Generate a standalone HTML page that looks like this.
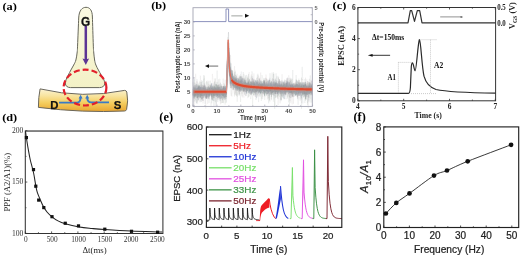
<!DOCTYPE html>
<html><head><meta charset="utf-8"><style>
html,body{margin:0;padding:0;background:#fff;width:520px;height:256px;overflow:hidden;}
svg{display:block;font-family:"Liberation Sans",sans-serif;will-change:transform;}
</style></head><body>
<svg width="520" height="256" viewBox="0 0 520 256"><text x="2.4" y="9.7" font-family="Liberation Serif" font-size="11" font-weight="bold" font-style="normal" text-anchor="start" fill="#000" textLength="14.4" lengthAdjust="spacingAndGlyphs">(a)</text>
<defs>
<linearGradient id="barg" x1="0" y1="0" x2="0" y2="1">
<stop offset="0" stop-color="#fbf3d2"/><stop offset="0.3" stop-color="#f8e4a0"/><stop offset="0.62" stop-color="#f4cd5e"/><stop offset="1" stop-color="#e9a630"/></linearGradient>
<linearGradient id="neug" x1="0" y1="0" x2="0" y2="1">
<stop offset="0" stop-color="#fbfae2"/><stop offset="1" stop-color="#f3f1c6"/></linearGradient>
</defs>
<path d="M40.1 88.9 Q83 99 124.6 90.4 Q126.2 90.3 126.8 92 Q128.6 101 126.6 109.5 Q126.2 110.9 124.5 111 Q83 113 38.4 107.4 Q38.4 97 40.1 88.9 Z" fill="url(#barg)" stroke="#6a665a" stroke-width="1"/>
<path d="M86 7.3 C82.5 7.3 79 10 78.7 18 C78.52 22.5 77.85 39.33 77.6 45 C77.35 50.67 77.48 49.5 77.2 52 C76.92 54.5 76.48 57.83 75.9 60 C75.32 62.17 74.53 63.33 73.7 65 C72.87 66.67 71.8 68.33 70.9 70 C70 71.67 69.07 73.5 68.3 75 C67.53 76.5 66.8 77.67 66.3 79 C65.8 80.33 65.47 82.33 65.3 83 C65.2 86 67.5 87.6 70.5 87.6 L99.5 87.6 C102.5 87.6 104.9 86 104.8 83 C104.6 82.33 104.2 80.33 103.6 79 C103 77.67 102.07 76.5 101.2 75 C100.33 73.5 99.28 71.67 98.4 70 C97.52 68.33 96.53 66.67 95.9 65 C95.27 63.33 94.97 62.17 94.6 60 C94.23 57.83 93.92 54.5 93.7 52 C93.48 49.5 93.52 50.83 93.3 45 C93.08 39.17 92.55 21.67 92.4 17 C92.3 10.5 90 7.3 86 7.3 Z" fill="url(#neug)" stroke="#66665a" stroke-width="1"/>
<line x1="85.8" y1="26" x2="85.8" y2="60" stroke="#5c3594" stroke-width="2.5"/>
<path d="M82.5 58.4 L85.8 59.6 L89.1 58.4 L85.8 65 Z" fill="#5c3594"/>
<text x="85.6" y="26.3" font-family="Liberation Sans" font-size="12.8" font-weight="bold" font-style="normal" text-anchor="middle" fill="#111" textLength="9.2" lengthAdjust="spacingAndGlyphs" stroke="#111" stroke-width="0.3">G</text>
<path d="M59 102.6 L76.8 102.6 Q80.5 102.6 80.6 97.5" fill="none" stroke="#3a7ac6" stroke-width="1.9"/>
<path d="M109 102.4 L91.2 102.4 Q87.3 102.4 87.2 97.5" fill="none" stroke="#3a7ac6" stroke-width="1.9"/>
<path d="M78.6 98.4 L82.6 98.4 L80.6 94.8 Z" fill="#3a7ac6"/>
<path d="M85.2 98.4 L89.2 98.4 L87.2 94.8 Z" fill="#3a7ac6"/>
<ellipse cx="85" cy="87.6" rx="21.4" ry="17.9" fill="none" stroke="#e2202b" stroke-width="2.2" stroke-dasharray="6 3" stroke-dashoffset="0.2"/>
<text x="54.3" y="108.7" font-family="Liberation Sans" font-size="11.8" font-weight="bold" font-style="normal" text-anchor="middle" fill="#111" textLength="8.2" lengthAdjust="spacingAndGlyphs" stroke="#111" stroke-width="0.25">D</text>
<text x="117.5" y="109.3" font-family="Liberation Sans" font-size="11.8" font-weight="bold" font-style="normal" text-anchor="middle" fill="#111" textLength="7.6" lengthAdjust="spacingAndGlyphs" stroke="#111" stroke-width="0.25">S</text>
<text x="151.2" y="9.2" font-family="Liberation Serif" font-size="11.3" font-weight="bold" font-style="normal" text-anchor="start" fill="#000" textLength="15" lengthAdjust="spacingAndGlyphs">(b)</text>
<defs><filter id="nb" x="-5%" y="-20%" width="110%" height="140%"><feGaussianBlur stdDeviation="0.35"/></filter></defs>
<g filter="url(#nb)">
<polyline points="193,99.64 193.67,89.33 194.34,85.35 195.01,95.07 195.68,100.32 196.35,92.18 197.02,88.68 197.69,84.69 198.36,99.59 199.03,100.09 199.7,87.21 200.37,88.71 201.04,81.88 201.71,85.43 202.38,92.42 203.05,93.53 203.72,75.21 204.39,93.62 205.06,96.81 205.73,99.09 206.4,91.15 207.06,90.82 207.73,93.98 208.4,92.16 209.07,90 209.74,87.3 210.41,84.7 211.08,90.41 211.75,103.29 212.42,87.24 213.09,100.9 213.76,92.86 214.43,101.25 215.1,91.75 215.77,96.77 216.44,90.38 217.11,70.51 217.78,92.07 218.45,86.34 219.12,100.28 219.79,93.62 220.46,87.49 221.13,92.36 221.8,89.38 222.47,91.09 223.14,98.24 223.81,88.13 224.48,96.99 225.15,79.71 225.82,95.01 226.49,87.34 227.16,70.97 227.83,40.39 228.5,56.4 229.17,53.35 229.84,72.47 230.51,62.53 231.18,71.72 231.85,78.89 232.52,85.92 233.19,76.75 233.86,79.28 234.53,72.21 235.19,85.63 235.86,79.99 236.53,80.6 237.2,82.34 237.87,83.07 238.54,83.48 239.21,88.72 239.88,91.59 240.55,87.79 241.22,81.6 241.89,75.82 242.56,79.41 243.23,79.05 243.9,80.95 244.57,81.57 245.24,84.99 245.91,81.3 246.58,74.94 247.25,88.56 247.92,91 248.59,73.99 249.26,85.11 249.93,80.51 250.6,81.2 251.27,94.21 251.94,71.28 252.61,75.58 253.28,85.93 253.95,82.28 254.62,86.36 255.29,92.93 255.96,88 256.63,84.92 257.3,80.19 257.97,82.86 258.64,87.08 259.31,78.79 259.98,92.45 260.65,82.49 261.32,80.47 261.99,89.55 262.66,99.24 263.32,93.59 263.99,86.26 264.66,84.42 265.33,77.89 266,94.36 266.67,87.91 267.34,83.78 268.01,89.01 268.68,103.29 269.35,82.87 270.02,73.2 270.69,81.65 271.36,94.06 272.03,90.84 272.7,86.78 273.37,72.21 274.04,84.3 274.71,87.57 275.38,78.3 276.05,88.88 276.72,76.4 277.39,92.82 278.06,91.49 278.73,83.82 279.4,79.32 280.07,84.3 280.74,86.6 281.41,100.3 282.08,93.18 282.75,92.55 283.42,92.07 284.09,84.88 284.76,90.84 285.43,83.63 286.1,88.2 286.77,90.9 287.44,88.01 288.11,86.04 288.78,83.29 289.45,91.91 290.12,90.36 290.78,97.66 291.45,78.57 292.12,79.57 292.79,90.09 293.46,92.04 294.13,96.94 294.8,87.91 295.47,87.69 296.14,74.99 296.81,87.47 297.48,94.08 298.15,104.84 298.82,80.03 299.49,87.91 300.16,99.51 300.83,88 301.5,99.54 302.17,66.78 302.84,82.01 303.51,85.54 304.18,90.37 304.85,103.04 305.52,90.09 306.19,99.3 306.86,85.47 307.53,103.1 308.2,95.18 308.87,81.5 309.54,78.78 310.21,96.99 310.88,99.27 311.55,83.75 312.22,83.93" fill="none" stroke="#889294" stroke-width="0.5" stroke-opacity="0.18"/>
<polyline points="193,94.94 193.67,92.13 194.34,91.41 195.01,90.5 195.68,91.14 196.35,89.9 197.02,90.11 197.69,94.25 198.36,90.31 199.03,87.22 199.7,93.75 200.37,95.22 201.04,90.82 201.71,95.52 202.38,92.76 203.05,94.52 203.72,92.01 204.39,91.18 205.06,91.4 205.73,90.24 206.4,92.18 207.06,90.88 207.73,96.41 208.4,98.59 209.07,91.17 209.74,92.97 210.41,90.44 211.08,94.73 211.75,94.27 212.42,91.69 213.09,94.71 213.76,88.33 214.43,93.36 215.1,91.58 215.77,88.48 216.44,91.78 217.11,87.19 217.78,89.97 218.45,96.85 219.12,91.07 219.79,89.63 220.46,90.38 221.13,84.64 221.8,91.33 222.47,90.08 223.14,95.81 223.81,86.24 224.48,90.63 225.15,91.46 225.82,85.82 226.49,92.5 227.16,68.22 227.83,46.42 228.5,41.52 229.17,68.02 229.84,75.81 230.51,71.35 231.18,82 231.85,84.31 232.52,78.44 233.19,85.47 233.86,84.88 234.53,77.32 235.19,83.97 235.86,79.22 236.53,85.02 237.2,86.51 237.87,87.26 238.54,80.95 239.21,89.1 239.88,86.86 240.55,86.97 241.22,84.23 241.89,85.25 242.56,88.21 243.23,84.78 243.9,91.6 244.57,84.48 245.24,86.33 245.91,83.18 246.58,83.84 247.25,88.42 247.92,88.92 248.59,84.73 249.26,85.68 249.93,85.65 250.6,89.04 251.27,88.1 251.94,92.22 252.61,87.87 253.28,87.26 253.95,86.3 254.62,81.65 255.29,94.79 255.96,89.21 256.63,98.25 257.3,87.41 257.97,84.04 258.64,82.2 259.31,88.22 259.98,89.73 260.65,93.35 261.32,84.01 261.99,90.36 262.66,85.43 263.32,85.54 263.99,81.43 264.66,83.76 265.33,87.69 266,90.08 266.67,91.04 267.34,86.71 268.01,90.67 268.68,92.26 269.35,79.95 270.02,82.84 270.69,84.36 271.36,85.97 272.03,95.16 272.7,86.5 273.37,86.56 274.04,89.34 274.71,87.42 275.38,91.57 276.05,80.14 276.72,86.1 277.39,89.45 278.06,88.55 278.73,89.02 279.4,89.37 280.07,88.54 280.74,90.38 281.41,85.74 282.08,89.73 282.75,81.47 283.42,87.36 284.09,82.31 284.76,89.46 285.43,88.34 286.1,93.53 286.77,89.77 287.44,85.64 288.11,90.63 288.78,81.9 289.45,88.85 290.12,93.68 290.78,89.43 291.45,95.07 292.12,86.49 292.79,93.27 293.46,91.3 294.13,88.81 294.8,92.46 295.47,94.68 296.14,91.23 296.81,90.84 297.48,89.8 298.15,96.09 298.82,89.74 299.49,89.32 300.16,84.35 300.83,82.92 301.5,91 302.17,91.32 302.84,90.95 303.51,86.68 304.18,86.11 304.85,89.8 305.52,85.54 306.19,90.64 306.86,88.47 307.53,86.19 308.2,89.24 308.87,90.29 309.54,89.6 310.21,85.88 310.88,91.4 311.55,87.77 312.22,89.53" fill="none" stroke="#929ca4" stroke-width="0.5" stroke-opacity="0.36"/>
<polyline points="193,92.19 193.67,92.87 194.34,94.99 195.01,92.56 195.68,84.73 196.35,93.71 197.02,92.2 197.69,88.14 198.36,89.36 199.03,89.3 199.7,88.98 200.37,98.1 201.04,94.54 201.71,91.35 202.38,90.15 203.05,87.59 203.72,90.25 204.39,92.53 205.06,91.63 205.73,92.44 206.4,90.96 207.06,89.59 207.73,92.85 208.4,94.38 209.07,94.51 209.74,88.23 210.41,87.64 211.08,88.57 211.75,89 212.42,89.08 213.09,91.77 213.76,89.62 214.43,95.15 215.1,92.41 215.77,94.12 216.44,89.42 217.11,93.63 217.78,92.11 218.45,90.47 219.12,87.4 219.79,94.31 220.46,94.78 221.13,89.13 221.8,95.32 222.47,90.3 223.14,93.6 223.81,92.1 224.48,97.62 225.15,89.46 225.82,93.37 226.49,94.65 227.16,64.3 227.83,46.54 228.5,32.12 229.17,61.54 229.84,72.99 230.51,74.99 231.18,69.88 231.85,79.88 232.52,79.45 233.19,80.03 233.86,85.23 234.53,82.37 235.19,84.82 235.86,87.57 236.53,81.07 237.2,82.02 237.87,84.18 238.54,87.57 239.21,91.32 239.88,83.5 240.55,85.55 241.22,90.83 241.89,85.75 242.56,90.6 243.23,85.91 243.9,85.49 244.57,84.92 245.24,85.47 245.91,85.72 246.58,90.04 247.25,87.69 247.92,88.18 248.59,87.37 249.26,85.82 249.93,84.77 250.6,81.56 251.27,95.17 251.94,85.67 252.61,87.65 253.28,79.74 253.95,84.12 254.62,92.5 255.29,85.94 255.96,88.96 256.63,84.13 257.3,90.78 257.97,87.75 258.64,87.89 259.31,87.82 259.98,89.43 260.65,93.51 261.32,86.15 261.99,84.46 262.66,87.93 263.32,91.02 263.99,87.13 264.66,86 265.33,88.42 266,87.94 266.67,83.39 267.34,91.56 268.01,89.79 268.68,94.16 269.35,90.31 270.02,90.47 270.69,91.21 271.36,90.39 272.03,82.4 272.7,88.85 273.37,88.61 274.04,81.19 274.71,88.5 275.38,93.91 276.05,87.06 276.72,91.4 277.39,83.13 278.06,92.45 278.73,90.33 279.4,93.66 280.07,88.2 280.74,91.81 281.41,88.78 282.08,89.8 282.75,90.59 283.42,85.6 284.09,85.65 284.76,88.48 285.43,91.61 286.1,92.18 286.77,87.88 287.44,81.08 288.11,90.27 288.78,91.34 289.45,91.09 290.12,92.39 290.78,92.01 291.45,89.56 292.12,84.31 292.79,88.95 293.46,90.61 294.13,94.18 294.8,88.31 295.47,89.11 296.14,92.99 296.81,92.56 297.48,89.21 298.15,85.83 298.82,87.09 299.49,88.47 300.16,90.19 300.83,88.13 301.5,89.22 302.17,82.2 302.84,92.86 303.51,90.42 304.18,85.16 304.85,90.12 305.52,84.69 306.19,89.43 306.86,88.84 307.53,90.52 308.2,93.78 308.87,92.48 309.54,82.23 310.21,87.3 310.88,87.44 311.55,86.34 312.22,87.59" fill="none" stroke="#868b8e" stroke-width="0.5" stroke-opacity="0.36"/>
<polyline points="193,88.47 193.67,95.16 194.34,90.15 195.01,92.46 195.68,88.59 196.35,93.27 197.02,88.1 197.69,94.3 198.36,91.49 199.03,87.47 199.7,93.8 200.37,91.77 201.04,92.51 201.71,91.16 202.38,95.99 203.05,93.97 203.72,94.21 204.39,92.19 205.06,92.73 205.73,93.05 206.4,88.79 207.06,96.25 207.73,94.3 208.4,94.19 209.07,86.54 209.74,90.92 210.41,86.7 211.08,91.79 211.75,86.36 212.42,90.35 213.09,91.35 213.76,89.15 214.43,98.32 215.1,86.73 215.77,85.33 216.44,91.61 217.11,86.72 217.78,88.58 218.45,90.72 219.12,87.04 219.79,87.44 220.46,92.92 221.13,90.3 221.8,92.91 222.47,90.42 223.14,95.54 223.81,89.58 224.48,94.88 225.15,95.51 225.82,95.25 226.49,87.75 227.16,70.29 227.83,52.77 228.5,50.87 229.17,61.02 229.84,77.25 230.51,74.83 231.18,80.36 231.85,76.22 232.52,79.43 233.19,83.81 233.86,86.29 234.53,86.08 235.19,83.86 235.86,85.54 236.53,84.3 237.2,81.82 237.87,80.79 238.54,85.78 239.21,86.08 239.88,86.8 240.55,87.08 241.22,89.54 241.89,83.06 242.56,85.55 243.23,84.94 243.9,85.8 244.57,85.62 245.24,83.61 245.91,86.01 246.58,93.47 247.25,85.2 247.92,84.54 248.59,82.94 249.26,87.12 249.93,88.54 250.6,84.51 251.27,88.62 251.94,86.9 252.61,83.06 253.28,91.31 253.95,92.79 254.62,85.24 255.29,84.34 255.96,91.97 256.63,92.35 257.3,85.55 257.97,88.84 258.64,86.3 259.31,84.02 259.98,82.52 260.65,89.79 261.32,89.16 261.99,87.33 262.66,93.73 263.32,85.86 263.99,83.5 264.66,90.96 265.33,89.6 266,89.71 266.67,84.32 267.34,91.76 268.01,86.27 268.68,86.59 269.35,91.35 270.02,87.89 270.69,88.52 271.36,90.76 272.03,81.61 272.7,92.16 273.37,91.25 274.04,93.74 274.71,88.12 275.38,91.46 276.05,82.48 276.72,87.46 277.39,83.79 278.06,91.7 278.73,82.26 279.4,90.02 280.07,85.4 280.74,94.29 281.41,92.46 282.08,89.59 282.75,91.02 283.42,98.51 284.09,90.56 284.76,90.88 285.43,88.12 286.1,83.63 286.77,89.8 287.44,90.12 288.11,88.93 288.78,88.48 289.45,89.47 290.12,90.75 290.78,92.71 291.45,87.39 292.12,93.98 292.79,91.11 293.46,86.6 294.13,86.56 294.8,85.44 295.47,88.4 296.14,87.78 296.81,95.12 297.48,87.29 298.15,88.23 298.82,91.22 299.49,87.36 300.16,88.47 300.83,89.36 301.5,88.52 302.17,87.36 302.84,92.04 303.51,91.62 304.18,90.6 304.85,92.05 305.52,90.1 306.19,89.52 306.86,87.8 307.53,89.61 308.2,88.66 308.87,90.18 309.54,90.57 310.21,88.02 310.88,92.48 311.55,90.29 312.22,93.05" fill="none" stroke="#94a4ac" stroke-width="0.5" stroke-opacity="0.36"/>
<polyline points="193,95.52 193.67,85.69 194.34,98.66 195.01,82.32 195.68,93.5 196.35,88.73 197.02,103.37 197.69,90.89 198.36,83.73 199.03,87.83 199.7,81.38 200.37,88.66 201.04,85.82 201.71,92.3 202.38,85.49 203.05,91.61 203.72,85.66 204.39,87.93 205.06,93.14 205.73,92.13 206.4,92.36 207.06,91.06 207.73,80.5 208.4,82.46 209.07,87.59 209.74,94.21 210.41,86.97 211.08,83.97 211.75,94.04 212.42,96.95 213.09,97.83 213.76,86.7 214.43,93.78 215.1,78.49 215.77,102.03 216.44,89.9 217.11,93 217.78,88.23 218.45,79.32 219.12,98.62 219.79,91.74 220.46,92.96 221.13,103.24 221.8,90.39 222.47,93.4 223.14,87.81 223.81,97.2 224.48,85.13 225.15,97.65 225.82,96.04 226.49,98.71 227.16,71.36 227.83,41.96 228.5,56.63 229.17,43.11 229.84,84.11 230.51,92.74 231.18,95.73 231.85,91.79 232.52,84.83 233.19,88.2 233.86,81.67 234.53,73.69 235.19,85.8 235.86,83.17 236.53,86.69 237.2,79.93 237.87,89.36 238.54,83.95 239.21,81.48 239.88,79.8 240.55,102.03 241.22,82.32 241.89,96.23 242.56,85.18 243.23,87.99 243.9,73.87 244.57,92.29 245.24,76.35 245.91,96.22 246.58,90.97 247.25,84.96 247.92,98.1 248.59,80.39 249.26,96.25 249.93,81.17 250.6,78.19 251.27,75.79 251.94,85.7 252.61,90.19 253.28,87.54 253.95,96.07 254.62,89.29 255.29,87.45 255.96,90.91 256.63,89.09 257.3,83.32 257.97,73.67 258.64,85.47 259.31,84.79 259.98,92.86 260.65,80.45 261.32,100.95 261.99,90.04 262.66,88.64 263.32,90.26 263.99,87.86 264.66,95.89 265.33,89.12 266,87.94 266.67,86.32 267.34,84.06 268.01,92.63 268.68,98.26 269.35,89.71 270.02,87.44 270.69,94.55 271.36,84.25 272.03,72.51 272.7,93.68 273.37,90.89 274.04,82.26 274.71,109.05 275.38,96.01 276.05,89.55 276.72,90.46 277.39,85.25 278.06,86.84 278.73,93.24 279.4,96.89 280.07,88.75 280.74,99.82 281.41,83.53 282.08,83.74 282.75,81.96 283.42,96.31 284.09,93.96 284.76,87.85 285.43,80.33 286.1,81.5 286.77,81.07 287.44,98.54 288.11,91.46 288.78,102.43 289.45,83.62 290.12,81.47 290.78,78.98 291.45,93.01 292.12,78.57 292.79,92.01 293.46,91.54 294.13,89.92 294.8,86.65 295.47,83.22 296.14,84.76 296.81,85.53 297.48,90.16 298.15,81.92 298.82,93.57 299.49,94.54 300.16,91.35 300.83,87.15 301.5,91.65 302.17,91.56 302.84,91.98 303.51,92.19 304.18,88.63 304.85,87.62 305.52,99.06 306.19,86.99 306.86,87.97 307.53,88.35 308.2,82.49 308.87,89.89 309.54,88.58 310.21,95.22 310.88,82.85 311.55,102.61 312.22,86.62" fill="none" stroke="#8b9c90" stroke-width="0.5" stroke-opacity="0.18"/>
<polyline points="193,90.09 193.67,90.39 194.34,94.63 195.01,93.38 195.68,88.87 196.35,88.52 197.02,91.44 197.69,94.59 198.36,100.44 199.03,90.59 199.7,96.35 200.37,92.24 201.04,92.15 201.71,93.2 202.38,89.19 203.05,92.65 203.72,93 204.39,94.52 205.06,89.09 205.73,90.32 206.4,97.6 207.06,93.21 207.73,92.98 208.4,91.04 209.07,98.68 209.74,94.63 210.41,92.66 211.08,93.54 211.75,91.76 212.42,93.92 213.09,100.98 213.76,96.84 214.43,92.27 215.1,90.67 215.77,93.59 216.44,87.51 217.11,93.3 217.78,91.33 218.45,90.49 219.12,91.62 219.79,87.54 220.46,92.7 221.13,94.48 221.8,89.01 222.47,93.07 223.14,93.37 223.81,91.38 224.48,90.05 225.15,92.05 225.82,88.44 226.49,94.05 227.16,74.82 227.83,52.67 228.5,51.21 229.17,52.4 229.84,61.71 230.51,76.02 231.18,80.27 231.85,80.78 232.52,79.7 233.19,84.06 233.86,80.39 234.53,84.23 235.19,88.63 235.86,86.27 236.53,82.28 237.2,80.43 237.87,83.69 238.54,84.27 239.21,80.83 239.88,76.47 240.55,80.86 241.22,87.16 241.89,87.26 242.56,81.21 243.23,86.07 243.9,89.1 244.57,90.93 245.24,89.34 245.91,84.13 246.58,86.14 247.25,88.21 247.92,86.18 248.59,89.78 249.26,83.95 249.93,84.96 250.6,83.37 251.27,87.25 251.94,82.8 252.61,89.29 253.28,83.06 253.95,82.46 254.62,86.05 255.29,82.23 255.96,80.85 256.63,90.26 257.3,89.51 257.97,91.25 258.64,85.09 259.31,89.53 259.98,92.59 260.65,87.55 261.32,91.35 261.99,81.53 262.66,87.92 263.32,85.72 263.99,90.4 264.66,91.63 265.33,86.18 266,84.64 266.67,90.13 267.34,91.35 268.01,88.53 268.68,85.69 269.35,89.66 270.02,83.22 270.69,86.38 271.36,83.92 272.03,91.25 272.7,92.61 273.37,91.33 274.04,89.73 274.71,84.23 275.38,86.83 276.05,87.65 276.72,91.98 277.39,87.17 278.06,89.27 278.73,87.83 279.4,89.82 280.07,92.22 280.74,88.35 281.41,85.82 282.08,90.46 282.75,87.17 283.42,82.2 284.09,85.71 284.76,84.02 285.43,89.7 286.1,86.48 286.77,91.26 287.44,88 288.11,90.94 288.78,88.91 289.45,93 290.12,87.66 290.78,89.72 291.45,88.47 292.12,90.52 292.79,96.63 293.46,90.81 294.13,86.57 294.8,88.99 295.47,89.89 296.14,86.32 296.81,82.74 297.48,86.45 298.15,87.8 298.82,92.08 299.49,91.78 300.16,85.79 300.83,88.39 301.5,88.95 302.17,86.98 302.84,90.86 303.51,96.74 304.18,89.17 304.85,85.66 305.52,89.8 306.19,88.57 306.86,86.71 307.53,83.25 308.2,92.54 308.87,87.29 309.54,83.58 310.21,91.6 310.88,86.51 311.55,86.29 312.22,83.58" fill="none" stroke="#94a4ac" stroke-width="0.5" stroke-opacity="0.36"/>
<polyline points="193,90.41 193.67,87.41 194.34,89.38 195.01,85.57 195.68,90.31 196.35,91.29 197.02,92.18 197.69,94.52 198.36,86.49 199.03,95.57 199.7,92.16 200.37,93.45 201.04,94.29 201.71,98.92 202.38,92.99 203.05,91.32 203.72,91.3 204.39,89.04 205.06,92.28 205.73,93.82 206.4,90.77 207.06,89.62 207.73,94.67 208.4,96.65 209.07,95.06 209.74,88.35 210.41,88.55 211.08,94.61 211.75,91.4 212.42,89.06 213.09,87.48 213.76,93.88 214.43,92.53 215.1,87.22 215.77,84 216.44,86.83 217.11,95.43 217.78,90.31 218.45,92.72 219.12,91.95 219.79,93.89 220.46,93.3 221.13,91.79 221.8,85.95 222.47,89.51 223.14,90.39 223.81,91.67 224.48,94.18 225.15,92.5 225.82,87.77 226.49,89.09 227.16,64.66 227.83,48.86 228.5,50.3 229.17,71.98 229.84,69.15 230.51,84.43 231.18,70.3 231.85,81.82 232.52,80.9 233.19,86.04 233.86,83.89 234.53,85.79 235.19,79.56 235.86,82.76 236.53,87.68 237.2,90.38 237.87,84.64 238.54,86.22 239.21,88.44 239.88,83.16 240.55,85.83 241.22,85.04 241.89,87.46 242.56,87.53 243.23,87.31 243.9,91.11 244.57,84.04 245.24,84.87 245.91,91.82 246.58,86.04 247.25,82.74 247.92,85.77 248.59,82.44 249.26,87.55 249.93,86.76 250.6,91.01 251.27,89.81 251.94,92.83 252.61,89.9 253.28,86.29 253.95,85.46 254.62,83.43 255.29,86.81 255.96,90.47 256.63,85.94 257.3,87.85 257.97,81.68 258.64,81.16 259.31,84.42 259.98,91.21 260.65,89.28 261.32,87.02 261.99,89.97 262.66,86.03 263.32,85.54 263.99,85.09 264.66,87.09 265.33,90.7 266,90.61 266.67,88.32 267.34,83.69 268.01,82.92 268.68,84.88 269.35,86.89 270.02,85.91 270.69,85.47 271.36,83.99 272.03,85.43 272.7,93.16 273.37,85.17 274.04,87.03 274.71,89.78 275.38,86.64 276.05,87.43 276.72,88.56 277.39,93.85 278.06,88.08 278.73,86.67 279.4,88.64 280.07,93.63 280.74,87.07 281.41,86.25 282.08,88.01 282.75,87.24 283.42,89.77 284.09,90.78 284.76,87 285.43,89.85 286.1,88.14 286.77,78.27 287.44,86.48 288.11,88.36 288.78,94.04 289.45,88.53 290.12,86.42 290.78,91.15 291.45,89.67 292.12,96.18 292.79,87.15 293.46,90.88 294.13,86.78 294.8,84.61 295.47,89.54 296.14,85.87 296.81,88.25 297.48,89.73 298.15,90 298.82,91.85 299.49,84.99 300.16,86.31 300.83,92.4 301.5,86.47 302.17,91.55 302.84,94.06 303.51,85.37 304.18,93.37 304.85,85.45 305.52,88.63 306.19,86.39 306.86,87.66 307.53,85.6 308.2,88.22 308.87,87.49 309.54,88.57 310.21,85.85 310.88,90.66 311.55,86.14 312.22,84.57" fill="none" stroke="#aca4b4" stroke-width="0.5" stroke-opacity="0.36"/>
<polyline points="193,91.96 193.67,90.87 194.34,88.72 195.01,87.33 195.68,89.58 196.35,93.44 197.02,89.8 197.69,89.73 198.36,91.52 199.03,92.01 199.7,88.55 200.37,87.23 201.04,94.12 201.71,92.12 202.38,88.73 203.05,87.45 203.72,85.54 204.39,95.25 205.06,87.53 205.73,92.93 206.4,98.68 207.06,88.94 207.73,91.4 208.4,92.76 209.07,90.87 209.74,89.65 210.41,93.68 211.08,91.25 211.75,95.62 212.42,88.73 213.09,90.67 213.76,91.69 214.43,90.83 215.1,89.23 215.77,88.24 216.44,89.03 217.11,91.21 217.78,95.34 218.45,89.91 219.12,88.45 219.79,87.96 220.46,92.1 221.13,86.59 221.8,92.67 222.47,93.33 223.14,91.03 223.81,89.25 224.48,92.52 225.15,94.95 225.82,96.64 226.49,87.54 227.16,70.58 227.83,45.97 228.5,52.21 229.17,60.67 229.84,70.09 230.51,75.26 231.18,82.7 231.85,82.84 232.52,77.73 233.19,89.87 233.86,83.72 234.53,78.21 235.19,81.24 235.86,84.65 236.53,85.65 237.2,88.59 237.87,78.19 238.54,86.45 239.21,84.42 239.88,80.52 240.55,82.36 241.22,83.58 241.89,86.44 242.56,84.99 243.23,87.96 243.9,84.03 244.57,88.67 245.24,86.12 245.91,84.5 246.58,83.62 247.25,88.37 247.92,86.24 248.59,87.83 249.26,88.74 249.93,84.31 250.6,85.2 251.27,88.52 251.94,86.09 252.61,91.36 253.28,89.56 253.95,91.85 254.62,88.82 255.29,84.06 255.96,86.82 256.63,88.09 257.3,86.5 257.97,88.31 258.64,86.86 259.31,91.78 259.98,87.43 260.65,90.4 261.32,87.08 261.99,87.69 262.66,87.01 263.32,91.64 263.99,82.22 264.66,90.12 265.33,88.87 266,88.91 266.67,89.73 267.34,92.33 268.01,87.14 268.68,85.09 269.35,88.92 270.02,94.92 270.69,91.67 271.36,87.54 272.03,92.67 272.7,90.62 273.37,90.52 274.04,90.5 274.71,86.99 275.38,85.15 276.05,94.17 276.72,93.59 277.39,83.64 278.06,86.75 278.73,88.05 279.4,91.25 280.07,88.64 280.74,94.19 281.41,81.76 282.08,87.35 282.75,86.91 283.42,87.98 284.09,83.84 284.76,88.67 285.43,88.57 286.1,91.83 286.77,89.63 287.44,88.52 288.11,85.05 288.78,91.2 289.45,92.13 290.12,91.79 290.78,91.79 291.45,84.77 292.12,96.33 292.79,90.43 293.46,86.39 294.13,86.87 294.8,90.83 295.47,90.07 296.14,93.89 296.81,92.28 297.48,96.72 298.15,88.24 298.82,90.81 299.49,91.83 300.16,91.73 300.83,92.01 301.5,90.39 302.17,90.39 302.84,83.99 303.51,91.54 304.18,89.75 304.85,89.25 305.52,86.42 306.19,87.6 306.86,85.83 307.53,88.5 308.2,88.51 308.87,87.99 309.54,88.74 310.21,89.82 310.88,90.91 311.55,94.69 312.22,87.76" fill="none" stroke="#aca4b4" stroke-width="0.5" stroke-opacity="0.36"/>
<polyline points="193,83.07 193.67,89.51 194.34,98.06 195.01,87.91 195.68,95.39 196.35,86.39 197.02,92.42 197.69,101.65 198.36,91.93 199.03,82.62 199.7,98.34 200.37,84.55 201.04,86.62 201.71,80.17 202.38,89.44 203.05,83.8 203.72,79.09 204.39,78.37 205.06,93.87 205.73,94.35 206.4,92.07 207.06,96.85 207.73,89.47 208.4,88.11 209.07,95.63 209.74,95.45 210.41,101.8 211.08,105.95 211.75,101.51 212.42,90.02 213.09,88.02 213.76,106.03 214.43,92.34 215.1,86.67 215.77,91.88 216.44,82.23 217.11,99.11 217.78,85.41 218.45,89.34 219.12,88.88 219.79,78.73 220.46,91.98 221.13,89.67 221.8,86.09 222.47,103.01 223.14,94.53 223.81,103.29 224.48,83.88 225.15,85.46 225.82,102.75 226.49,90.62 227.16,68.87 227.83,69.49 228.5,42.39 229.17,67.97 229.84,77.12 230.51,77.4 231.18,88.54 231.85,74.5 232.52,74.33 233.19,83.73 233.86,86.31 234.53,85.42 235.19,70.54 235.86,94.97 236.53,79.54 237.2,97.04 237.87,89.16 238.54,79.64 239.21,89.54 239.88,77.32 240.55,74.32 241.22,86.46 241.89,77.27 242.56,86.67 243.23,79.39 243.9,87.11 244.57,83.69 245.24,83.7 245.91,78.5 246.58,89.81 247.25,87.79 247.92,75.66 248.59,86.13 249.26,86.97 249.93,87.27 250.6,88.65 251.27,83.87 251.94,82.12 252.61,106.34 253.28,88.45 253.95,86.23 254.62,92.09 255.29,80.6 255.96,91.47 256.63,88.91 257.3,96.34 257.97,95.5 258.64,87.53 259.31,83.35 259.98,88.79 260.65,82.87 261.32,84.79 261.99,95.56 262.66,85.85 263.32,88.48 263.99,78.11 264.66,99.93 265.33,97.22 266,90.24 266.67,88.11 267.34,86.55 268.01,90.18 268.68,88.82 269.35,101.18 270.02,85.23 270.69,82.47 271.36,85.76 272.03,87.65 272.7,93.24 273.37,87.79 274.04,73.64 274.71,93.82 275.38,88.15 276.05,97.71 276.72,90.25 277.39,84.84 278.06,98.85 278.73,81.66 279.4,91.37 280.07,84.98 280.74,94.11 281.41,81.31 282.08,93.93 282.75,85.07 283.42,88.43 284.09,93.27 284.76,79.43 285.43,93.89 286.1,88.93 286.77,79.72 287.44,89.21 288.11,94.09 288.78,87.09 289.45,80.28 290.12,85.05 290.78,93.07 291.45,91.72 292.12,88 292.79,84.99 293.46,85.7 294.13,87.99 294.8,90.47 295.47,84.9 296.14,91.19 296.81,85.99 297.48,91.92 298.15,86.16 298.82,82.67 299.49,88.23 300.16,86.43 300.83,88.24 301.5,77.44 302.17,92.96 302.84,89.12 303.51,90.55 304.18,88.15 304.85,87.14 305.52,96.45 306.19,93.79 306.86,92.48 307.53,82.75 308.2,82.32 308.87,92.2 309.54,86.81 310.21,102.61 310.88,88.46 311.55,91.67 312.22,100.61" fill="none" stroke="#8b9c90" stroke-width="0.5" stroke-opacity="0.18"/>
<polyline points="193,87.14 193.67,91.08 194.34,95.63 195.01,86.56 195.68,91.43 196.35,95.46 197.02,97.8 197.69,87.57 198.36,90.24 199.03,93.7 199.7,88.89 200.37,92.51 201.04,95.06 201.71,84.57 202.38,93.16 203.05,87.95 203.72,88.11 204.39,91.89 205.06,95.2 205.73,97.76 206.4,90.51 207.06,94.88 207.73,91.79 208.4,92.68 209.07,92 209.74,88.3 210.41,93.66 211.08,94.27 211.75,90.97 212.42,90.73 213.09,91.45 213.76,93.57 214.43,88.2 215.1,92.93 215.77,89.58 216.44,93.25 217.11,93.21 217.78,95.76 218.45,90.97 219.12,83.76 219.79,89.02 220.46,91.64 221.13,98.63 221.8,90.17 222.47,90.43 223.14,86.71 223.81,94.38 224.48,90.77 225.15,90.52 225.82,89.81 226.49,90.27 227.16,71.13 227.83,46.92 228.5,45.61 229.17,62.52 229.84,75.94 230.51,76.08 231.18,77.92 231.85,79.27 232.52,84.24 233.19,80.03 233.86,79.99 234.53,83.35 235.19,80.49 235.86,81.39 236.53,83.58 237.2,90.74 237.87,81.02 238.54,83 239.21,78.76 239.88,82.82 240.55,84.07 241.22,85.61 241.89,80.06 242.56,87.81 243.23,84.57 243.9,83.34 244.57,78.83 245.24,89.64 245.91,85.77 246.58,83.76 247.25,90.29 247.92,84.3 248.59,81.84 249.26,85.74 249.93,90.41 250.6,86.03 251.27,82.93 251.94,84.5 252.61,89.77 253.28,87.64 253.95,78.9 254.62,89.46 255.29,96.87 255.96,91.1 256.63,91.61 257.3,83.27 257.97,89.35 258.64,93.38 259.31,83.06 259.98,89.12 260.65,87.03 261.32,85.5 261.99,87.47 262.66,89.68 263.32,88.57 263.99,88.24 264.66,88.26 265.33,85.41 266,90.4 266.67,84.19 267.34,88.11 268.01,87.61 268.68,86.04 269.35,87.14 270.02,89.4 270.69,94.5 271.36,87.89 272.03,90.32 272.7,85.93 273.37,87.14 274.04,91.4 274.71,85.16 275.38,88.64 276.05,86.66 276.72,87.36 277.39,87.4 278.06,91.77 278.73,88.75 279.4,90.1 280.07,88.44 280.74,83.83 281.41,83.96 282.08,87.35 282.75,89 283.42,90.01 284.09,90.51 284.76,90.81 285.43,88.41 286.1,90.68 286.77,87.58 287.44,90.74 288.11,91.17 288.78,90.95 289.45,85.14 290.12,90.24 290.78,91.01 291.45,89.17 292.12,89.36 292.79,89.37 293.46,89.32 294.13,92.03 294.8,85.94 295.47,86.89 296.14,91.42 296.81,89.32 297.48,87.6 298.15,85.07 298.82,92.88 299.49,85.39 300.16,86.27 300.83,91.27 301.5,88.54 302.17,89.05 302.84,89.78 303.51,85.01 304.18,88.43 304.85,92.43 305.52,98.51 306.19,86.67 306.86,95.3 307.53,90.25 308.2,90.97 308.87,87.58 309.54,88.5 310.21,93.06 310.88,89.53 311.55,90.07 312.22,90.35" fill="none" stroke="#9c96a2" stroke-width="0.5" stroke-opacity="0.36"/>
<polyline points="193,81.78 193.67,93.25 194.34,96.54 195.01,88.06 195.68,94.7 196.35,95.81 197.02,90.57 197.69,91.78 198.36,94.93 199.03,90.99 199.7,93.02 200.37,93.64 201.04,89.56 201.71,91.9 202.38,92.98 203.05,90.46 203.72,95.94 204.39,88.5 205.06,90.08 205.73,90.79 206.4,94.43 207.06,95.38 207.73,91.88 208.4,94.22 209.07,89.8 209.74,96.6 210.41,91.5 211.08,93.36 211.75,92.32 212.42,91.65 213.09,86.84 213.76,97.74 214.43,91.19 215.1,92.19 215.77,94.13 216.44,88.55 217.11,93.29 217.78,92.09 218.45,91.09 219.12,94.41 219.79,93.42 220.46,91.84 221.13,93.31 221.8,92.46 222.47,88.48 223.14,89.73 223.81,93.28 224.48,86.39 225.15,91.69 225.82,88.43 226.49,89.63 227.16,70.23 227.83,56.49 228.5,48.22 229.17,73.37 229.84,68.66 230.51,67.59 231.18,72.03 231.85,74.99 232.52,73.84 233.19,84.94 233.86,82.81 234.53,87.68 235.19,87.37 235.86,80.32 236.53,84.63 237.2,82.3 237.87,84.29 238.54,82.46 239.21,89.63 239.88,85.5 240.55,87.07 241.22,86.16 241.89,85.71 242.56,83.6 243.23,84.09 243.9,81.43 244.57,87.04 245.24,85.6 245.91,87.08 246.58,87.49 247.25,85.8 247.92,86.64 248.59,85.05 249.26,84.18 249.93,88.17 250.6,91.51 251.27,86.57 251.94,81.06 252.61,92.11 253.28,90.53 253.95,88.7 254.62,84.53 255.29,89.06 255.96,88.89 256.63,82.3 257.3,87.54 257.97,84.34 258.64,90.78 259.31,85.93 259.98,89.71 260.65,84.94 261.32,88.61 261.99,87.36 262.66,87.12 263.32,88.74 263.99,91.78 264.66,88.53 265.33,89.7 266,86.55 266.67,85.41 267.34,86.15 268.01,89.45 268.68,84.62 269.35,87.4 270.02,82.77 270.69,88.55 271.36,88.12 272.03,95.17 272.7,83.57 273.37,83.93 274.04,88.08 274.71,85.32 275.38,89.08 276.05,90.88 276.72,90.17 277.39,89.81 278.06,84.25 278.73,90.83 279.4,89.98 280.07,92.39 280.74,88.48 281.41,88.54 282.08,89.65 282.75,86.57 283.42,87.29 284.09,89.38 284.76,82.99 285.43,94.41 286.1,85.85 286.77,90.91 287.44,87.25 288.11,89.38 288.78,90.05 289.45,82.79 290.12,89.47 290.78,90.21 291.45,86.42 292.12,86.53 292.79,94.09 293.46,89.65 294.13,89.84 294.8,88.91 295.47,90.03 296.14,91.93 296.81,91.94 297.48,84.95 298.15,91.12 298.82,81.67 299.49,88.08 300.16,89.07 300.83,93.4 301.5,83.92 302.17,89.01 302.84,93.45 303.51,86.84 304.18,82.1 304.85,90 305.52,84.27 306.19,86.74 306.86,94.31 307.53,87.36 308.2,91.86 308.87,86.92 309.54,90.85 310.21,88.76 310.88,91.63 311.55,84.66 312.22,87.98" fill="none" stroke="#a49c9c" stroke-width="0.5" stroke-opacity="0.36"/>
<polyline points="193,91.07 193.67,93.8 194.34,95.27 195.01,90.54 195.68,90.7 196.35,94.7 197.02,84.34 197.69,98.52 198.36,94.45 199.03,90.95 199.7,88.53 200.37,97.76 201.04,93.15 201.71,87.08 202.38,87.18 203.05,92.56 203.72,91.62 204.39,94.61 205.06,90.46 205.73,95.14 206.4,98.33 207.06,96.68 207.73,91.56 208.4,96.02 209.07,88.14 209.74,87.57 210.41,88.5 211.08,89.62 211.75,88.06 212.42,90.88 213.09,88.92 213.76,90.22 214.43,89.2 215.1,95.04 215.77,93.88 216.44,94.98 217.11,89.05 217.78,90.1 218.45,94.3 219.12,94.95 219.79,93.61 220.46,88.91 221.13,92.11 221.8,92.52 222.47,93.98 223.14,92.13 223.81,86.56 224.48,93.97 225.15,92.89 225.82,86.23 226.49,89.4 227.16,74.66 227.83,44.52 228.5,56.71 229.17,60.72 229.84,84.28 230.51,80.68 231.18,73.36 231.85,81.71 232.52,83.23 233.19,81.5 233.86,82.27 234.53,84.28 235.19,85.37 235.86,77.7 236.53,79.01 237.2,83.07 237.87,88.13 238.54,86.34 239.21,85.78 239.88,83.46 240.55,80.02 241.22,87.07 241.89,85.06 242.56,87.07 243.23,85.35 243.9,88.16 244.57,84.82 245.24,82.39 245.91,87.53 246.58,87.41 247.25,86.06 247.92,90.77 248.59,80.72 249.26,91.01 249.93,87.9 250.6,89.67 251.27,82.01 251.94,88.51 252.61,88.63 253.28,80.92 253.95,87.49 254.62,89.68 255.29,87.23 255.96,86.63 256.63,89.73 257.3,87.95 257.97,88.08 258.64,85.1 259.31,85 259.98,84.82 260.65,87.97 261.32,85.02 261.99,88.34 262.66,83.93 263.32,86.41 263.99,89.14 264.66,83.8 265.33,92.74 266,91.01 266.67,90.49 267.34,88.36 268.01,91.96 268.68,91.9 269.35,94.16 270.02,87.7 270.69,90.59 271.36,81.03 272.03,85.65 272.7,91.9 273.37,83.94 274.04,87.9 274.71,84.78 275.38,91.9 276.05,84.57 276.72,84.8 277.39,89.74 278.06,91.17 278.73,89.66 279.4,87.61 280.07,80.69 280.74,82.65 281.41,83.68 282.08,89.27 282.75,89.65 283.42,87.42 284.09,89.53 284.76,90.18 285.43,89.36 286.1,85.97 286.77,88.95 287.44,87.98 288.11,89.62 288.78,89.42 289.45,89.88 290.12,84.74 290.78,88.1 291.45,84.04 292.12,89.45 292.79,85.47 293.46,93.41 294.13,90.26 294.8,89.17 295.47,91.05 296.14,89.39 296.81,92.03 297.48,89.58 298.15,91.23 298.82,89.1 299.49,90.06 300.16,92.36 300.83,90.46 301.5,89.06 302.17,93.29 302.84,88.88 303.51,85.16 304.18,89.96 304.85,87.46 305.52,87.24 306.19,91.86 306.86,85 307.53,81.17 308.2,92.63 308.87,82.38 309.54,91.64 310.21,84.63 310.88,95.24 311.55,85.7 312.22,88.95" fill="none" stroke="#a49c9c" stroke-width="0.5" stroke-opacity="0.36"/>
<polyline points="193,89.26 193.67,92.87 194.34,107.95 195.01,93.73 195.68,88.69 196.35,91.14 197.02,80.76 197.69,103.61 198.36,90.14 199.03,91.51 199.7,87.04 200.37,100.39 201.04,100.18 201.71,92.81 202.38,91.22 203.05,103.44 203.72,89.34 204.39,91.75 205.06,86.96 205.73,108.62 206.4,88.46 207.06,97.47 207.73,94.8 208.4,86.66 209.07,80.76 209.74,90.72 210.41,92.42 211.08,83.24 211.75,97.5 212.42,92.71 213.09,94.98 213.76,98.08 214.43,90.46 215.1,78.51 215.77,90.11 216.44,88.48 217.11,91.92 217.78,84.41 218.45,90.54 219.12,97.43 219.79,91.07 220.46,82.4 221.13,92.26 221.8,83.94 222.47,92.17 223.14,78.58 223.81,89.89 224.48,87.47 225.15,93.59 225.82,86.3 226.49,93.18 227.16,80.52 227.83,46.99 228.5,62.63 229.17,48.24 229.84,62.91 230.51,75.3 231.18,70.94 231.85,96.54 232.52,70.9 233.19,85.85 233.86,77.91 234.53,66.14 235.19,93.62 235.86,86.2 236.53,81.61 237.2,81.39 237.87,95.32 238.54,90.64 239.21,75.18 239.88,88.91 240.55,81.6 241.22,94.23 241.89,91.42 242.56,97.46 243.23,84.03 243.9,78.41 244.57,85.41 245.24,87.9 245.91,84.66 246.58,83.29 247.25,88.29 247.92,82.9 248.59,73.91 249.26,72.24 249.93,90.43 250.6,94.95 251.27,74.43 251.94,80.54 252.61,79.09 253.28,83.1 253.95,88.54 254.62,80.8 255.29,79.93 255.96,79.61 256.63,94.31 257.3,80.65 257.97,89.64 258.64,89.73 259.31,85.17 259.98,89.75 260.65,72.53 261.32,83.93 261.99,85.88 262.66,88.89 263.32,86.07 263.99,89.22 264.66,83.99 265.33,82.21 266,82.4 266.67,96 267.34,90.05 268.01,87.39 268.68,95.88 269.35,85.55 270.02,88.96 270.69,87.69 271.36,85.62 272.03,92.15 272.7,78.07 273.37,81.47 274.04,91.77 274.71,85.22 275.38,83.45 276.05,93.24 276.72,90.63 277.39,83.82 278.06,105.09 278.73,96.94 279.4,86.3 280.07,84.43 280.74,94.47 281.41,82.94 282.08,74.18 282.75,87.19 283.42,88.84 284.09,88.14 284.76,95.18 285.43,85.07 286.1,87.5 286.77,83.86 287.44,79.46 288.11,88.49 288.78,87.57 289.45,86.66 290.12,77.53 290.78,98.25 291.45,88.85 292.12,92.91 292.79,88.05 293.46,83.5 294.13,88.46 294.8,84.17 295.47,87.73 296.14,93.58 296.81,93.25 297.48,97.95 298.15,87.57 298.82,91.59 299.49,83.61 300.16,82.81 300.83,94.82 301.5,96.14 302.17,85.2 302.84,94.82 303.51,87.8 304.18,85.22 304.85,91.68 305.52,77.68 306.19,94.24 306.86,86.48 307.53,91.91 308.2,107.91 308.87,90.39 309.54,90.32 310.21,85.55 310.88,90.18 311.55,94.06 312.22,92.69" fill="none" stroke="#a49c9c" stroke-width="0.5" stroke-opacity="0.18"/>
<polyline points="193,92.71 193.67,92.07 194.34,90.34 195.01,92.9 195.68,94.51 196.35,95.28 197.02,93.14 197.69,88.34 198.36,93.57 199.03,91.89 199.7,91.63 200.37,94.31 201.04,91.7 201.71,95.83 202.38,93.81 203.05,93.12 203.72,91.43 204.39,95.45 205.06,91.7 205.73,97.14 206.4,98.38 207.06,92.42 207.73,88.34 208.4,86.78 209.07,88.83 209.74,91.17 210.41,85.74 211.08,91.03 211.75,94.12 212.42,88.64 213.09,93.95 213.76,95.43 214.43,89.93 215.1,88.24 215.77,93.01 216.44,94.41 217.11,91.46 217.78,89.7 218.45,94.96 219.12,92.93 219.79,89.98 220.46,90.44 221.13,85.8 221.8,88.81 222.47,100.19 223.14,87.51 223.81,94.2 224.48,90.27 225.15,96.61 225.82,89.64 226.49,97.15 227.16,68.34 227.83,41.75 228.5,51.46 229.17,60.01 229.84,70.23 230.51,76.09 231.18,82.86 231.85,80.02 232.52,79.75 233.19,85.96 233.86,75.96 234.53,86.75 235.19,83.93 235.86,84.48 236.53,84.65 237.2,85.5 237.87,77.94 238.54,85.38 239.21,85.63 239.88,83.14 240.55,87.1 241.22,90.5 241.89,81.08 242.56,86.12 243.23,82.17 243.9,82.28 244.57,80.02 245.24,83.84 245.91,85.61 246.58,91.98 247.25,83.52 247.92,89.52 248.59,82.31 249.26,88.29 249.93,89.93 250.6,86.67 251.27,87.31 251.94,86.4 252.61,83.97 253.28,82.21 253.95,86.5 254.62,82.53 255.29,86.45 255.96,92.18 256.63,90.12 257.3,87.66 257.97,87.72 258.64,85.41 259.31,90.45 259.98,91.48 260.65,84.9 261.32,88.66 261.99,81.31 262.66,90.85 263.32,89.75 263.99,80.11 264.66,93.86 265.33,93.48 266,87.46 266.67,90.79 267.34,88.68 268.01,84.15 268.68,88.89 269.35,87.99 270.02,85.5 270.69,91.15 271.36,93.4 272.03,87.29 272.7,88.21 273.37,86.1 274.04,90.36 274.71,89.46 275.38,88.9 276.05,87.27 276.72,85.53 277.39,87.44 278.06,96.18 278.73,89.78 279.4,90.62 280.07,91.08 280.74,90.51 281.41,87.26 282.08,96.62 282.75,87.28 283.42,86.17 284.09,86.28 284.76,90.83 285.43,93.73 286.1,93.07 286.77,90.32 287.44,82.34 288.11,91.42 288.78,88.85 289.45,84.82 290.12,84.92 290.78,88.95 291.45,86.86 292.12,83.83 292.79,87.22 293.46,88.32 294.13,91.42 294.8,89.81 295.47,90 296.14,94.13 296.81,91.37 297.48,84.09 298.15,92.11 298.82,93.14 299.49,92.43 300.16,88.22 300.83,86.3 301.5,86.91 302.17,82.72 302.84,91.11 303.51,88.07 304.18,88.82 304.85,89.86 305.52,84.35 306.19,90.85 306.86,88.66 307.53,93.07 308.2,87.44 308.87,89.47 309.54,92.64 310.21,92.25 310.88,93.33 311.55,90.15 312.22,90.08" fill="none" stroke="#8b9c90" stroke-width="0.5" stroke-opacity="0.36"/>
<polyline points="193,91.63 193.67,87.58 194.34,94.35 195.01,89.94 195.68,91.99 196.35,96.97 197.02,93.37 197.69,93.26 198.36,91.6 199.03,86.47 199.7,85.23 200.37,92.31 201.04,87.66 201.71,93.82 202.38,92.11 203.05,91.18 203.72,89.13 204.39,96.18 205.06,96.43 205.73,94.22 206.4,90.32 207.06,93.29 207.73,90.37 208.4,91.46 209.07,92 209.74,89.58 210.41,92.9 211.08,93.62 211.75,93.8 212.42,90.88 213.09,85.29 213.76,90.81 214.43,92.76 215.1,92.72 215.77,92.18 216.44,96.25 217.11,96.25 217.78,93.23 218.45,93.43 219.12,95.19 219.79,89.44 220.46,98.82 221.13,90.8 221.8,92.59 222.47,91.42 223.14,89.46 223.81,95.21 224.48,94.41 225.15,88.21 225.82,91.84 226.49,91.13 227.16,68.35 227.83,51.96 228.5,51.48 229.17,70.74 229.84,75.5 230.51,80.28 231.18,80.14 231.85,78.21 232.52,83.4 233.19,82.95 233.86,81.67 234.53,87.47 235.19,78.79 235.86,86.03 236.53,76.22 237.2,84.22 237.87,87.85 238.54,85.7 239.21,84.85 239.88,84.05 240.55,80.67 241.22,77.29 241.89,81.95 242.56,86.39 243.23,88.68 243.9,88.38 244.57,83.31 245.24,86.36 245.91,81.41 246.58,87.94 247.25,85.42 247.92,81.22 248.59,85.77 249.26,91.75 249.93,89.74 250.6,87.5 251.27,86.93 251.94,86.83 252.61,89.97 253.28,84.33 253.95,87.96 254.62,82.13 255.29,89.91 255.96,91 256.63,87.2 257.3,80.38 257.97,92.1 258.64,88.12 259.31,88.82 259.98,84.13 260.65,86.52 261.32,90.88 261.99,88.89 262.66,85.07 263.32,87.37 263.99,88.74 264.66,87.39 265.33,83.82 266,87.66 266.67,86.42 267.34,85.3 268.01,86.93 268.68,83.11 269.35,85.5 270.02,84.72 270.69,92.12 271.36,88.5 272.03,90.81 272.7,86.25 273.37,87.17 274.04,92.66 274.71,86.06 275.38,92.15 276.05,88.16 276.72,87.68 277.39,84.53 278.06,90.88 278.73,86.39 279.4,88.14 280.07,87.42 280.74,88.39 281.41,92.71 282.08,90.95 282.75,89.35 283.42,85.85 284.09,90.83 284.76,90.84 285.43,91.27 286.1,83.43 286.77,83.62 287.44,92.29 288.11,89.03 288.78,89.55 289.45,83.91 290.12,91.67 290.78,89.63 291.45,85.16 292.12,91.49 292.79,85.8 293.46,91.23 294.13,90.67 294.8,93.37 295.47,94.83 296.14,87.45 296.81,95.59 297.48,88.15 298.15,87.27 298.82,93.68 299.49,92.14 300.16,93.47 300.83,88.43 301.5,92.37 302.17,84.69 302.84,91.85 303.51,83.49 304.18,90.36 304.85,89.11 305.52,94.06 306.19,89.08 306.86,86.17 307.53,93.63 308.2,88.83 308.87,94.19 309.54,88.7 310.21,89.64 310.88,91.33 311.55,85.55 312.22,89.15" fill="none" stroke="#94a4ac" stroke-width="0.5" stroke-opacity="0.36"/>
<polyline points="193,95.5 193.67,91.01 194.34,92.64 195.01,91.23 195.68,91.36 196.35,92.42 197.02,93.66 197.69,92.44 198.36,87.03 199.03,92.71 199.7,94.44 200.37,94.36 201.04,91.22 201.71,94.56 202.38,92.9 203.05,93.31 203.72,89.88 204.39,92.42 205.06,89.34 205.73,89 206.4,91.48 207.06,93.89 207.73,93.15 208.4,87.04 209.07,87.7 209.74,95.54 210.41,91.02 211.08,94.31 211.75,85.54 212.42,91.65 213.09,96.25 213.76,94.42 214.43,95.92 215.1,95.08 215.77,91.77 216.44,94.7 217.11,89.33 217.78,95.63 218.45,90.99 219.12,97.31 219.79,92.93 220.46,89.97 221.13,93.19 221.8,89.06 222.47,91.38 223.14,86.13 223.81,90.62 224.48,93.68 225.15,93.57 225.82,89.42 226.49,85.71 227.16,68.47 227.83,56.91 228.5,53.24 229.17,71.59 229.84,76.17 230.51,74.09 231.18,88.19 231.85,81.96 232.52,73.73 233.19,82.08 233.86,81.65 234.53,83.88 235.19,83.03 235.86,74.99 236.53,87.6 237.2,85.21 237.87,86.77 238.54,78.69 239.21,94.62 239.88,86.09 240.55,76.18 241.22,80.75 241.89,83.74 242.56,85.54 243.23,89.36 243.9,83.01 244.57,82.89 245.24,83.52 245.91,83.07 246.58,87.65 247.25,86.12 247.92,90.83 248.59,88.34 249.26,87.67 249.93,93.5 250.6,85.28 251.27,87.93 251.94,88.96 252.61,90.83 253.28,85.75 253.95,89.32 254.62,83.57 255.29,87.65 255.96,87.73 256.63,86.45 257.3,82.75 257.97,87.14 258.64,86.25 259.31,87.29 259.98,90.45 260.65,83.62 261.32,88.71 261.99,83.99 262.66,84.99 263.32,88.2 263.99,81.89 264.66,88.7 265.33,93.21 266,87.1 266.67,87.63 267.34,87.44 268.01,89.69 268.68,87.79 269.35,87.3 270.02,86.2 270.69,85 271.36,85.42 272.03,88.92 272.7,88.57 273.37,82.21 274.04,86.44 274.71,84.11 275.38,93.98 276.05,93.35 276.72,84.39 277.39,87.29 278.06,92.88 278.73,84.44 279.4,88.56 280.07,83.41 280.74,87.05 281.41,85.11 282.08,86.25 282.75,89.08 283.42,89.94 284.09,81.59 284.76,89.23 285.43,89.77 286.1,87.81 286.77,86.57 287.44,90.32 288.11,82.78 288.78,91.57 289.45,97.4 290.12,91.05 290.78,92.84 291.45,92.7 292.12,85.49 292.79,90.06 293.46,88.92 294.13,92.15 294.8,88.84 295.47,90.02 296.14,89.23 296.81,80.01 297.48,87.47 298.15,91.08 298.82,87.03 299.49,86.56 300.16,85.68 300.83,87.42 301.5,90.22 302.17,92.99 302.84,89.22 303.51,88.82 304.18,93.38 304.85,89.12 305.52,87.19 306.19,89.5 306.86,90.59 307.53,88.77 308.2,89.97 308.87,88.01 309.54,86.01 310.21,86.89 310.88,93.11 311.55,89.55 312.22,94.87" fill="none" stroke="#868b8e" stroke-width="0.5" stroke-opacity="0.36"/>
<polyline points="193,93.18 193.67,89.82 194.34,93.25 195.01,82.99 195.68,87.95 196.35,94.67 197.02,93.93 197.69,94.64 198.36,92.57 199.03,95.19 199.7,102.3 200.37,75.65 201.04,88.92 201.71,99.91 202.38,91.25 203.05,87.74 203.72,98.33 204.39,89.64 205.06,84.75 205.73,88.26 206.4,80.87 207.06,86.58 207.73,90.05 208.4,98.15 209.07,99.46 209.74,84.36 210.41,91.2 211.08,91.37 211.75,98.5 212.42,73.9 213.09,80.27 213.76,89.71 214.43,85.56 215.1,94.43 215.77,88.73 216.44,103.97 217.11,93.06 217.78,86.64 218.45,93.71 219.12,95.03 219.79,87.65 220.46,104.41 221.13,89.02 221.8,93.16 222.47,94.64 223.14,95.89 223.81,93.16 224.48,87.15 225.15,88.82 225.82,91.82 226.49,92.72 227.16,80.18 227.83,64.51 228.5,65.06 229.17,67.92 229.84,64.62 230.51,80.44 231.18,80 231.85,88.21 232.52,75.93 233.19,89.84 233.86,87.51 234.53,94.54 235.19,89.37 235.86,79.57 236.53,87.2 237.2,83.42 237.87,77.05 238.54,85.68 239.21,76.54 239.88,85.51 240.55,77.71 241.22,75.98 241.89,79.58 242.56,89.54 243.23,91.53 243.9,89.83 244.57,88.16 245.24,80.03 245.91,88.05 246.58,87.44 247.25,76.95 247.92,85.5 248.59,87.83 249.26,83.74 249.93,79.7 250.6,93.17 251.27,91.85 251.94,87.46 252.61,80.74 253.28,95.24 253.95,93.69 254.62,79.82 255.29,80.73 255.96,93.71 256.63,93.94 257.3,94.89 257.97,85.95 258.64,80.72 259.31,86.35 259.98,77.43 260.65,93.22 261.32,84.49 261.99,81.22 262.66,97.2 263.32,86.2 263.99,88.73 264.66,79.6 265.33,87.3 266,77.58 266.67,86.36 267.34,95.81 268.01,98.49 268.68,97.73 269.35,97.15 270.02,101.55 270.69,81.99 271.36,81.97 272.03,90.85 272.7,94.41 273.37,83.72 274.04,94.97 274.71,85.02 275.38,79.27 276.05,94.22 276.72,81.18 277.39,98.62 278.06,77.46 278.73,82.25 279.4,81.07 280.07,88.71 280.74,83.6 281.41,100.35 282.08,85.22 282.75,86.55 283.42,89.44 284.09,93.03 284.76,94.56 285.43,81.81 286.1,83.66 286.77,86.46 287.44,91.82 288.11,90.45 288.78,86.5 289.45,92.74 290.12,101.03 290.78,83.46 291.45,91.95 292.12,92.58 292.79,93.96 293.46,97.18 294.13,84.87 294.8,88.88 295.47,86.88 296.14,94.59 296.81,90.47 297.48,94.04 298.15,87.27 298.82,93.05 299.49,87.09 300.16,100.89 300.83,84.63 301.5,103.22 302.17,87.61 302.84,86.41 303.51,85.01 304.18,95.14 304.85,90.73 305.52,91.2 306.19,87.12 306.86,79.25 307.53,91.98 308.2,81.45 308.87,85.41 309.54,93.94 310.21,86.87 310.88,79.9 311.55,91.8 312.22,80.61" fill="none" stroke="#a49c9c" stroke-width="0.5" stroke-opacity="0.18"/>
<polyline points="193,93.85 193.67,90.35 194.34,90.98 195.01,92.95 195.68,95.55 196.35,84.02 197.02,93.64 197.69,95.68 198.36,90.32 199.03,89.86 199.7,90.41 200.37,88.97 201.04,88.02 201.71,92.94 202.38,88.82 203.05,87.34 203.72,94.5 204.39,89.8 205.06,91.72 205.73,90.56 206.4,90.27 207.06,86.77 207.73,87.45 208.4,92.19 209.07,95.9 209.74,90.13 210.41,89.37 211.08,88.06 211.75,83.48 212.42,91.96 213.09,90.76 213.76,92.7 214.43,95.01 215.1,88.12 215.77,89.9 216.44,88.9 217.11,92.2 217.78,97.67 218.45,87.56 219.12,91.25 219.79,97.79 220.46,90.05 221.13,92.83 221.8,94.52 222.47,91.67 223.14,96.59 223.81,89.02 224.48,88.52 225.15,92.64 225.82,89.8 226.49,88.79 227.16,70.5 227.83,48.56 228.5,60.5 229.17,57.7 229.84,61.83 230.51,77.08 231.18,77.44 231.85,73.6 232.52,84.93 233.19,82.07 233.86,82.71 234.53,80.86 235.19,89.73 235.86,84.26 236.53,85.95 237.2,85.57 237.87,84.19 238.54,79.83 239.21,79.73 239.88,90.62 240.55,85.05 241.22,84.26 241.89,87.89 242.56,85.84 243.23,85.69 243.9,82.59 244.57,83.95 245.24,89.23 245.91,85.86 246.58,85.14 247.25,85.77 247.92,82.19 248.59,86.6 249.26,85.29 249.93,90.65 250.6,86.97 251.27,80.89 251.94,87.76 252.61,85.51 253.28,92.49 253.95,89.28 254.62,86.21 255.29,80.21 255.96,88.2 256.63,87 257.3,89 257.97,87.43 258.64,83.86 259.31,89.87 259.98,88.5 260.65,88.3 261.32,89.36 261.99,88.81 262.66,82.97 263.32,84.7 263.99,86.91 264.66,95.54 265.33,91.42 266,84.63 266.67,81.64 267.34,91.8 268.01,90.49 268.68,90.83 269.35,96.64 270.02,92.54 270.69,89 271.36,93.61 272.03,89.37 272.7,89.64 273.37,88.15 274.04,83.72 274.71,86.25 275.38,82.92 276.05,90.4 276.72,83.07 277.39,90.81 278.06,89.69 278.73,85 279.4,87.43 280.07,84.47 280.74,87.86 281.41,92.28 282.08,85.24 282.75,88.36 283.42,83.99 284.09,86 284.76,90.95 285.43,89.51 286.1,92.38 286.77,87.99 287.44,90.4 288.11,85.27 288.78,91.12 289.45,87.9 290.12,85.85 290.78,85.54 291.45,88.69 292.12,93.81 292.79,86.84 293.46,86.9 294.13,90.36 294.8,90.46 295.47,91.14 296.14,92.21 296.81,87.13 297.48,85.05 298.15,89.95 298.82,86.43 299.49,89.89 300.16,86.57 300.83,86.04 301.5,87.51 302.17,87.52 302.84,88.83 303.51,89.85 304.18,87.74 304.85,95.73 305.52,90.06 306.19,87.46 306.86,94.31 307.53,85.83 308.2,92.03 308.87,86.97 309.54,94.3 310.21,94.97 310.88,87.38 311.55,89.59 312.22,95.82" fill="none" stroke="#96a0b0" stroke-width="0.5" stroke-opacity="0.36"/>
<polyline points="193,90.42 193.67,90.6 194.34,89.71 195.01,88.09 195.68,94.82 196.35,94.95 197.02,89.45 197.69,90 198.36,95.03 199.03,89.93 199.7,96.8 200.37,86.92 201.04,91.05 201.71,88.87 202.38,94.62 203.05,95.59 203.72,91.65 204.39,93.8 205.06,93.98 205.73,87.62 206.4,92.6 207.06,91.35 207.73,88.4 208.4,90.44 209.07,95.9 209.74,93.04 210.41,95.42 211.08,93.4 211.75,99.95 212.42,91.23 213.09,90.7 213.76,87.21 214.43,94.32 215.1,94.38 215.77,93.61 216.44,94.69 217.11,93.66 217.78,98.01 218.45,96.03 219.12,91.61 219.79,93.63 220.46,94.2 221.13,98.12 221.8,88.65 222.47,91.48 223.14,91.58 223.81,87.89 224.48,97.64 225.15,89.54 225.82,90.34 226.49,89.47 227.16,74.27 227.83,57.76 228.5,39.51 229.17,54.85 229.84,69.67 230.51,73.89 231.18,84.04 231.85,73.52 232.52,82.88 233.19,76.79 233.86,83.18 234.53,80.56 235.19,79.96 235.86,90.39 236.53,86.71 237.2,90.66 237.87,86.53 238.54,85.77 239.21,86.87 239.88,85.85 240.55,84.17 241.22,85.14 241.89,83.99 242.56,85.45 243.23,86.92 243.9,87.69 244.57,90.18 245.24,87.23 245.91,84.51 246.58,88.26 247.25,83.52 247.92,86.33 248.59,88.67 249.26,83.52 249.93,93.77 250.6,85.86 251.27,83.91 251.94,88.33 252.61,86.75 253.28,86.55 253.95,87.94 254.62,88.57 255.29,87.14 255.96,80.43 256.63,82.34 257.3,86.31 257.97,87.9 258.64,88.34 259.31,84.69 259.98,88.97 260.65,87.87 261.32,85.91 261.99,89.98 262.66,85.64 263.32,88.73 263.99,94.52 264.66,86.05 265.33,84.05 266,85.94 266.67,88.51 267.34,86.71 268.01,93.05 268.68,85.06 269.35,85.42 270.02,87.53 270.69,83.14 271.36,91.2 272.03,89.22 272.7,87.45 273.37,86.18 274.04,90.89 274.71,91.08 275.38,86.61 276.05,91.18 276.72,90.38 277.39,93.97 278.06,88.43 278.73,89.36 279.4,86.1 280.07,90.42 280.74,81.46 281.41,91.57 282.08,89.33 282.75,89.56 283.42,88.37 284.09,93.67 284.76,91.5 285.43,84.95 286.1,86.26 286.77,83.33 287.44,88.52 288.11,87.49 288.78,86.84 289.45,87.4 290.12,92.94 290.78,88.96 291.45,89.67 292.12,84.94 292.79,88.75 293.46,87.21 294.13,86.12 294.8,93.98 295.47,85.49 296.14,89.87 296.81,90.25 297.48,91 298.15,87.42 298.82,95.65 299.49,83.74 300.16,90.98 300.83,94.53 301.5,87.47 302.17,87.08 302.84,82.58 303.51,91.01 304.18,87.24 304.85,92.58 305.52,82.03 306.19,89.81 306.86,86.3 307.53,94.55 308.2,93.35 308.87,90.3 309.54,86.04 310.21,92.19 310.88,89.13 311.55,89.12 312.22,95.43" fill="none" stroke="#96a0b0" stroke-width="0.5" stroke-opacity="0.36"/>
<polyline points="193,95.1 193.67,88.44 194.34,87.51 195.01,97 195.68,91.4 196.35,94.1 197.02,85.51 197.69,89.47 198.36,91.66 199.03,92.45 199.7,98.34 200.37,91.32 201.04,94.31 201.71,87.34 202.38,89.3 203.05,91.89 203.72,92.89 204.39,88.14 205.06,93.33 205.73,88.16 206.4,90.99 207.06,92.56 207.73,90.47 208.4,86.11 209.07,96.72 209.74,89.27 210.41,89.3 211.08,92.46 211.75,87 212.42,89.52 213.09,89.91 213.76,94.84 214.43,89.81 215.1,95.74 215.77,90.04 216.44,84.82 217.11,94.5 217.78,86.7 218.45,95.09 219.12,91.43 219.79,89.37 220.46,96.24 221.13,90.6 221.8,94.1 222.47,93.61 223.14,88.98 223.81,91.9 224.48,90.37 225.15,91.59 225.82,90.44 226.49,86.71 227.16,70.48 227.83,51.47 228.5,49.88 229.17,59.82 229.84,68.69 230.51,86.26 231.18,78.35 231.85,78.31 232.52,72.5 233.19,83.47 233.86,83.06 234.53,86.35 235.19,83.31 235.86,89.06 236.53,86.43 237.2,84.31 237.87,89.1 238.54,85.4 239.21,86.93 239.88,80.95 240.55,80.06 241.22,78.58 241.89,85 242.56,83.46 243.23,78.19 243.9,87.9 244.57,80.56 245.24,88.97 245.91,82.8 246.58,91.23 247.25,87.61 247.92,87.05 248.59,87.32 249.26,92.77 249.93,86.26 250.6,87.65 251.27,82.06 251.94,85 252.61,93.81 253.28,86.56 253.95,83.63 254.62,87.39 255.29,89.38 255.96,91.53 256.63,88.4 257.3,90.27 257.97,88.2 258.64,88.39 259.31,83.33 259.98,90.59 260.65,86.43 261.32,91.03 261.99,86.69 262.66,84.32 263.32,89.46 263.99,91.47 264.66,87.61 265.33,87.68 266,89.83 266.67,86.48 267.34,87.63 268.01,85.74 268.68,92.31 269.35,85.55 270.02,83.96 270.69,90.64 271.36,81.73 272.03,87.34 272.7,92.26 273.37,91.54 274.04,90.55 274.71,90.27 275.38,88.99 276.05,87.31 276.72,88.94 277.39,89.33 278.06,91.41 278.73,94.89 279.4,90.66 280.07,92.34 280.74,85.63 281.41,96.19 282.08,84.84 282.75,97.64 283.42,89.17 284.09,88.52 284.76,92.14 285.43,91.73 286.1,85.84 286.77,92.11 287.44,88.98 288.11,88.56 288.78,86.63 289.45,92.78 290.12,84.56 290.78,89.28 291.45,85.57 292.12,93.35 292.79,85.36 293.46,89.17 294.13,86.4 294.8,90.95 295.47,86.17 296.14,88.84 296.81,95.03 297.48,80.99 298.15,91.13 298.82,87.53 299.49,89.66 300.16,90.5 300.83,90.27 301.5,86.15 302.17,86.11 302.84,86.15 303.51,94.36 304.18,86.55 304.85,93.98 305.52,81.78 306.19,87.97 306.86,85.57 307.53,89.24 308.2,88.8 308.87,91.53 309.54,82.88 310.21,90.34 310.88,85.79 311.55,91.91 312.22,89.8" fill="none" stroke="#94a4ac" stroke-width="0.5" stroke-opacity="0.36"/>
<polyline points="193,95.89 193.67,86.62 194.34,79.29 195.01,101.58 195.68,89.88 196.35,103.21 197.02,88.32 197.69,91.86 198.36,94.09 199.03,85.94 199.7,94.53 200.37,87.77 201.04,81.79 201.71,84.83 202.38,100.47 203.05,93.69 203.72,90.34 204.39,94.5 205.06,98.41 205.73,89.04 206.4,95.9 207.06,88.03 207.73,89.56 208.4,92.26 209.07,102.89 209.74,87.38 210.41,91.89 211.08,93.14 211.75,88.51 212.42,89.54 213.09,98.28 213.76,89.82 214.43,81.66 215.1,106.19 215.77,95.84 216.44,93.44 217.11,92.05 217.78,101.98 218.45,86.81 219.12,95.26 219.79,101.25 220.46,98.68 221.13,99.43 221.8,90.9 222.47,93.49 223.14,96.01 223.81,93.26 224.48,100.17 225.15,90.21 225.82,94.8 226.49,85.55 227.16,80.11 227.83,52.27 228.5,70.42 229.17,74.89 229.84,70.87 230.51,77.3 231.18,63.34 231.85,72.57 232.52,80.71 233.19,75.95 233.86,82.32 234.53,79.81 235.19,77.24 235.86,85.91 236.53,96 237.2,78.71 237.87,78.9 238.54,78.12 239.21,95.94 239.88,87.09 240.55,90.2 241.22,79.85 241.89,82.24 242.56,81.66 243.23,71.97 243.9,83.68 244.57,84.41 245.24,75.04 245.91,86.82 246.58,93.63 247.25,85.89 247.92,78.16 248.59,92.21 249.26,89.92 249.93,81.23 250.6,81.7 251.27,87.02 251.94,85.9 252.61,86.39 253.28,84.88 253.95,90.24 254.62,93 255.29,90.47 255.96,99.97 256.63,91.27 257.3,88.82 257.97,83.52 258.64,93.98 259.31,84.47 259.98,93.07 260.65,80.54 261.32,92.43 261.99,88.12 262.66,83.71 263.32,83.71 263.99,80.87 264.66,97.25 265.33,86.28 266,82.74 266.67,95.47 267.34,88.11 268.01,84.48 268.68,85.23 269.35,99.97 270.02,87.54 270.69,85.47 271.36,91.78 272.03,83.51 272.7,79.65 273.37,73.87 274.04,88.05 274.71,79.57 275.38,97.87 276.05,73.35 276.72,83.89 277.39,87.53 278.06,75.85 278.73,87.53 279.4,82.48 280.07,89.51 280.74,85.36 281.41,79.99 282.08,82.42 282.75,91.71 283.42,87.42 284.09,99.31 284.76,94.22 285.43,89.48 286.1,80.69 286.77,92.15 287.44,85.41 288.11,92.18 288.78,87.69 289.45,106.62 290.12,87.25 290.78,80 291.45,80.04 292.12,85.73 292.79,70 293.46,94.86 294.13,89.33 294.8,83.94 295.47,95.09 296.14,80.41 296.81,86.17 297.48,99.07 298.15,86.71 298.82,84.41 299.49,89.67 300.16,82.64 300.83,86.46 301.5,108.83 302.17,97.16 302.84,88.86 303.51,81.97 304.18,96.35 304.85,78.99 305.52,85.99 306.19,95.11 306.86,88.25 307.53,89.62 308.2,89.63 308.87,87.96 309.54,89.86 310.21,75.39 310.88,80.71 311.55,89.42 312.22,95.49" fill="none" stroke="#889294" stroke-width="0.5" stroke-opacity="0.18"/>
<polyline points="193,93.56 193.67,92.53 194.34,91.72 195.01,88.48 195.68,95.36 196.35,90.42 197.02,95.24 197.69,86.56 198.36,94.97 199.03,88.98 199.7,96.89 200.37,91.13 201.04,88.86 201.71,86.62 202.38,89.86 203.05,101.07 203.72,90.19 204.39,92.6 205.06,88.44 205.73,86.09 206.4,98.07 207.06,91.47 207.73,98.42 208.4,89.49 209.07,92.94 209.74,92.63 210.41,92.54 211.08,95.29 211.75,98.88 212.42,93.57 213.09,91.83 213.76,92.83 214.43,92.26 215.1,93.04 215.77,91.45 216.44,96.92 217.11,88.81 217.78,92.18 218.45,98.06 219.12,95.11 219.79,90.84 220.46,86.42 221.13,89.84 221.8,94.74 222.47,93.16 223.14,89.58 223.81,88.94 224.48,90.26 225.15,91.13 225.82,88.78 226.49,90.14 227.16,67.06 227.83,42.88 228.5,58.17 229.17,70.24 229.84,74.07 230.51,76.55 231.18,79.78 231.85,73.72 232.52,84.9 233.19,84.05 233.86,82.98 234.53,83.53 235.19,82.14 235.86,80.31 236.53,79.57 237.2,90.56 237.87,86.51 238.54,86 239.21,80.92 239.88,83.87 240.55,91.5 241.22,81.38 241.89,84.97 242.56,83.6 243.23,85.06 243.9,85.87 244.57,83.76 245.24,92.27 245.91,85.95 246.58,85.9 247.25,88.6 247.92,87.65 248.59,91.95 249.26,91.37 249.93,86.81 250.6,89.44 251.27,88.98 251.94,88.61 252.61,86.87 253.28,89.56 253.95,83.82 254.62,90.73 255.29,84.93 255.96,89.15 256.63,83.25 257.3,88.59 257.97,87.63 258.64,82.83 259.31,88.1 259.98,86.09 260.65,83.31 261.32,86.54 261.99,87.6 262.66,86.23 263.32,87.45 263.99,89.54 264.66,87.74 265.33,90.43 266,92.78 266.67,82.27 267.34,85.06 268.01,93.37 268.68,83.68 269.35,88.6 270.02,83.96 270.69,89.9 271.36,90.63 272.03,89.59 272.7,91.25 273.37,85.37 274.04,88.19 274.71,83.69 275.38,84.95 276.05,92.23 276.72,88.26 277.39,87.66 278.06,90.74 278.73,85.91 279.4,86.18 280.07,91.84 280.74,92.91 281.41,89.06 282.08,93.17 282.75,90.2 283.42,92.46 284.09,90.11 284.76,88.54 285.43,87.06 286.1,94.97 286.77,86.27 287.44,86.24 288.11,89.68 288.78,92.29 289.45,90.6 290.12,90.79 290.78,88.31 291.45,88.57 292.12,90.24 292.79,88.58 293.46,86.38 294.13,88.37 294.8,86.98 295.47,85.58 296.14,87.15 296.81,86.88 297.48,85 298.15,92.74 298.82,91.76 299.49,93.53 300.16,88.6 300.83,90.18 301.5,85.73 302.17,90.04 302.84,91.29 303.51,89.68 304.18,93.49 304.85,84.86 305.52,89.98 306.19,94.54 306.86,90.97 307.53,90.07 308.2,86.32 308.87,94.13 309.54,87.21 310.21,89.78 310.88,91.42 311.55,80.66 312.22,92.03" fill="none" stroke="#aca4b4" stroke-width="0.5" stroke-opacity="0.36"/>
<polyline points="193,94.67 193.67,92.1 194.34,89.85 195.01,88.88 195.68,89.7 196.35,89.84 197.02,91.65 197.69,98.05 198.36,91.07 199.03,86.31 199.7,88.05 200.37,91.93 201.04,89.24 201.71,95.85 202.38,95.78 203.05,86.99 203.72,92.51 204.39,85.42 205.06,92.74 205.73,92.07 206.4,96.91 207.06,91.11 207.73,91.88 208.4,94.97 209.07,93.73 209.74,93.62 210.41,89.93 211.08,91.44 211.75,91 212.42,93.65 213.09,93.85 213.76,92.69 214.43,92.98 215.1,87.25 215.77,95.64 216.44,90.56 217.11,89.58 217.78,85.08 218.45,86.77 219.12,89.12 219.79,85.53 220.46,92.87 221.13,93.56 221.8,89.83 222.47,90.78 223.14,96.09 223.81,85.85 224.48,92.4 225.15,87.61 225.82,91.67 226.49,93.61 227.16,70.04 227.83,42.42 228.5,50.8 229.17,67 229.84,65.99 230.51,85.33 231.18,84.32 231.85,79.57 232.52,77.95 233.19,85.17 233.86,82.16 234.53,82.19 235.19,80.95 235.86,87.52 236.53,78.42 237.2,88.65 237.87,83.45 238.54,89.59 239.21,90.49 239.88,83.07 240.55,81.23 241.22,87.51 241.89,90.14 242.56,87.9 243.23,83.19 243.9,82.19 244.57,86.37 245.24,81.77 245.91,86.47 246.58,88.64 247.25,88.66 247.92,83.32 248.59,86.65 249.26,88.28 249.93,85.92 250.6,83.88 251.27,88.66 251.94,86.77 252.61,85.17 253.28,86.04 253.95,84.29 254.62,84.37 255.29,84.48 255.96,82.35 256.63,92.34 257.3,81.8 257.97,88.51 258.64,86.11 259.31,88.19 259.98,95.55 260.65,85.61 261.32,89.91 261.99,83.34 262.66,90.54 263.32,85.45 263.99,85.86 264.66,91.84 265.33,88.17 266,90.26 266.67,87.26 267.34,87.43 268.01,90.97 268.68,90.15 269.35,91.37 270.02,84.16 270.69,91.05 271.36,86.41 272.03,87.88 272.7,86.35 273.37,88.18 274.04,91.99 274.71,88.18 275.38,87.22 276.05,89.17 276.72,89.09 277.39,89.99 278.06,85.6 278.73,88.08 279.4,88.2 280.07,86.23 280.74,89.59 281.41,87.96 282.08,89.15 282.75,88.41 283.42,84.95 284.09,87.16 284.76,84.42 285.43,88.75 286.1,83.42 286.77,82.43 287.44,89.13 288.11,88.05 288.78,88.21 289.45,82.15 290.12,87.61 290.78,87.68 291.45,93.03 292.12,90.61 292.79,85.78 293.46,86.29 294.13,92.09 294.8,88.43 295.47,83.93 296.14,87.34 296.81,83.97 297.48,92.65 298.15,87.41 298.82,83.26 299.49,88.43 300.16,88.3 300.83,90.2 301.5,88.42 302.17,84.76 302.84,89.22 303.51,88.83 304.18,94.23 304.85,84.01 305.52,89.79 306.19,94.12 306.86,89.33 307.53,88.87 308.2,86.83 308.87,89.62 309.54,93.95 310.21,86.27 310.88,90.91 311.55,86.49 312.22,83.84" fill="none" stroke="#889294" stroke-width="0.5" stroke-opacity="0.36"/>
<polyline points="193,89.2 193.67,91.18 194.34,88.81 195.01,91.07 195.68,94.39 196.35,90.06 197.02,94.89 197.69,97.52 198.36,95.08 199.03,88.95 199.7,91.45 200.37,96.82 201.04,92.42 201.71,95.53 202.38,92.76 203.05,95.22 203.72,88.02 204.39,96.14 205.06,91.54 205.73,91.64 206.4,95.17 207.06,92.83 207.73,92.5 208.4,94.34 209.07,88.44 209.74,89.1 210.41,93.6 211.08,88.73 211.75,96.18 212.42,89.07 213.09,88.65 213.76,93.44 214.43,86.84 215.1,91.41 215.77,95.51 216.44,89.82 217.11,88.19 217.78,95.22 218.45,91.07 219.12,87.97 219.79,91.29 220.46,90.45 221.13,95.12 221.8,87.6 222.47,91.3 223.14,90.21 223.81,88.17 224.48,90.85 225.15,86.32 225.82,93.08 226.49,86.24 227.16,74.33 227.83,50.03 228.5,54.64 229.17,68.75 229.84,76.88 230.51,74.78 231.18,75.79 231.85,82.49 232.52,80.48 233.19,80.41 233.86,77.83 234.53,87.94 235.19,79.93 235.86,85.77 236.53,84.92 237.2,84.79 237.87,85.49 238.54,80.2 239.21,82.85 239.88,82.26 240.55,89.42 241.22,79.89 241.89,82.3 242.56,79.57 243.23,84.07 243.9,85.88 244.57,89.81 245.24,85.39 245.91,82.42 246.58,84.65 247.25,85.91 247.92,86.93 248.59,93.01 249.26,88.92 249.93,89.61 250.6,88.49 251.27,88.6 251.94,90.44 252.61,87.47 253.28,84.92 253.95,87.4 254.62,84.85 255.29,86.12 255.96,90.5 256.63,88.47 257.3,81.62 257.97,89.73 258.64,90.74 259.31,87.23 259.98,88.79 260.65,86.3 261.32,87.66 261.99,90.08 262.66,92.92 263.32,88.8 263.99,89.33 264.66,85.03 265.33,88.89 266,90.36 266.67,90.98 267.34,93.77 268.01,93.41 268.68,82.36 269.35,92.1 270.02,88.01 270.69,90.42 271.36,90.79 272.03,83.61 272.7,92.05 273.37,94.61 274.04,93.52 274.71,86.67 275.38,83.98 276.05,88.79 276.72,90.75 277.39,91.99 278.06,91.56 278.73,88.06 279.4,84.69 280.07,86.76 280.74,84.88 281.41,89.95 282.08,88.6 282.75,89.78 283.42,86.56 284.09,90.94 284.76,99.11 285.43,88.34 286.1,90.01 286.77,86.81 287.44,86.13 288.11,91.65 288.78,85.95 289.45,85.57 290.12,89.32 290.78,84.66 291.45,88.85 292.12,87.97 292.79,92.12 293.46,90.03 294.13,89 294.8,91.1 295.47,92.55 296.14,86.08 296.81,93.87 297.48,87.66 298.15,88.33 298.82,90.71 299.49,91.15 300.16,87.12 300.83,93.31 301.5,98.09 302.17,89.39 302.84,94.27 303.51,88.08 304.18,86.01 304.85,90.4 305.52,88.47 306.19,87.19 306.86,87.58 307.53,90.96 308.2,87.56 308.87,90.14 309.54,87.1 310.21,86.79 310.88,85.44 311.55,90.82 312.22,83.96" fill="none" stroke="#96a0b0" stroke-width="0.5" stroke-opacity="0.36"/>
<polyline points="193,93.36 193.67,98.37 194.34,78.68 195.01,93.87 195.68,95.17 196.35,103.63 197.02,79.03 197.69,99.44 198.36,99.14 199.03,87.28 199.7,86.2 200.37,89.18 201.04,95.99 201.71,83.83 202.38,80.98 203.05,91.25 203.72,85.73 204.39,88.72 205.06,104.08 205.73,90.59 206.4,94.21 207.06,94.45 207.73,94.12 208.4,95.84 209.07,96.69 209.74,96.22 210.41,85 211.08,93.68 211.75,92.52 212.42,86.26 213.09,86.01 213.76,93.33 214.43,91.4 215.1,83.8 215.77,99.13 216.44,105.17 217.11,86.71 217.78,89 218.45,93.03 219.12,99.18 219.79,95.25 220.46,100.76 221.13,90.03 221.8,90.63 222.47,89.34 223.14,86.84 223.81,89.57 224.48,86.94 225.15,90.64 225.82,90.79 226.49,102.48 227.16,72.65 227.83,47.74 228.5,46.33 229.17,64.22 229.84,75.35 230.51,67.92 231.18,68.93 231.85,83.09 232.52,70.1 233.19,89.52 233.86,82.6 234.53,83.86 235.19,82.11 235.86,80.8 236.53,89.65 237.2,82.74 237.87,87.11 238.54,91.95 239.21,81.55 239.88,83.63 240.55,83.15 241.22,71.43 241.89,91.56 242.56,77.62 243.23,85.83 243.9,86.89 244.57,94.75 245.24,90.09 245.91,85.71 246.58,90.74 247.25,91.88 247.92,87.35 248.59,88.32 249.26,87.55 249.93,83.73 250.6,86.23 251.27,94.23 251.94,89.49 252.61,76.07 253.28,92.36 253.95,87.82 254.62,87.49 255.29,86.99 255.96,85.65 256.63,86.68 257.3,74.54 257.97,90.57 258.64,102.2 259.31,91.72 259.98,97 260.65,89.98 261.32,82.18 261.99,83.46 262.66,92.77 263.32,91.99 263.99,91.18 264.66,92.66 265.33,90.33 266,91.53 266.67,94.72 267.34,87.52 268.01,90.13 268.68,88.38 269.35,87.57 270.02,77.89 270.69,84.44 271.36,81.82 272.03,79.35 272.7,88.52 273.37,89.35 274.04,99.27 274.71,82.05 275.38,89.59 276.05,96.92 276.72,81.8 277.39,81.26 278.06,87.28 278.73,89.57 279.4,80.35 280.07,89.91 280.74,101.26 281.41,98.43 282.08,89.02 282.75,80.31 283.42,84.12 284.09,80.61 284.76,92.49 285.43,96.4 286.1,88.26 286.77,92.19 287.44,86.65 288.11,85.07 288.78,77.98 289.45,90.63 290.12,89.04 290.78,97.98 291.45,96.93 292.12,91.29 292.79,92.24 293.46,85.07 294.13,90.2 294.8,96.14 295.47,89.39 296.14,86.48 296.81,84.68 297.48,87.56 298.15,85.5 298.82,80.14 299.49,86.76 300.16,91.61 300.83,93.4 301.5,82.73 302.17,91.22 302.84,103.41 303.51,85.24 304.18,93.52 304.85,95.07 305.52,89.48 306.19,99.87 306.86,90.18 307.53,87.04 308.2,90.54 308.87,99.98 309.54,91.96 310.21,91.28 310.88,89.54 311.55,93.41 312.22,86.77" fill="none" stroke="#929ca4" stroke-width="0.5" stroke-opacity="0.18"/>
<polyline points="193,96.05 193.67,86.57 194.34,92.16 195.01,95.93 195.68,93.56 196.35,92.97 197.02,90.64 197.69,93.69 198.36,96.37 199.03,92.03 199.7,86.26 200.37,89.68 201.04,94.16 201.71,90.69 202.38,94.78 203.05,97.81 203.72,91.03 204.39,83.52 205.06,95.18 205.73,88.89 206.4,96.19 207.06,93.38 207.73,90.14 208.4,93.51 209.07,91.04 209.74,93.02 210.41,91.41 211.08,91.84 211.75,90.1 212.42,90.08 213.09,95.62 213.76,91.77 214.43,95.92 215.1,89.74 215.77,94.63 216.44,92.11 217.11,91.69 217.78,93.48 218.45,90.69 219.12,88.88 219.79,92.17 220.46,93.39 221.13,91.09 221.8,95.25 222.47,90.34 223.14,87.95 223.81,95.77 224.48,92.81 225.15,88.33 225.82,87.49 226.49,93.83 227.16,67.3 227.83,52.42 228.5,47.17 229.17,48.14 229.84,74.39 230.51,88.07 231.18,69.92 231.85,86.66 232.52,78.61 233.19,83.04 233.86,75.52 234.53,78.92 235.19,78.92 235.86,85.68 236.53,82.26 237.2,84.9 237.87,81.91 238.54,88.57 239.21,84.18 239.88,85.25 240.55,91.57 241.22,84.5 241.89,87.63 242.56,87.92 243.23,87.89 243.9,85.08 244.57,88.73 245.24,89.72 245.91,95.74 246.58,88.82 247.25,89.91 247.92,86.32 248.59,85.17 249.26,85.82 249.93,90.69 250.6,88.27 251.27,87.19 251.94,83.29 252.61,77.94 253.28,87.59 253.95,85.92 254.62,83.96 255.29,93.63 255.96,80.85 256.63,83.78 257.3,88.79 257.97,90.66 258.64,84.29 259.31,91.68 259.98,91.1 260.65,88.46 261.32,84.95 261.99,84.67 262.66,87.63 263.32,82.19 263.99,81.24 264.66,83.62 265.33,90.22 266,82.7 266.67,89.57 267.34,94.08 268.01,89.2 268.68,91.14 269.35,87.91 270.02,85.7 270.69,88.27 271.36,90.23 272.03,86.24 272.7,91.25 273.37,89.82 274.04,89.71 274.71,84.44 275.38,86.84 276.05,82.29 276.72,86.17 277.39,89.97 278.06,85.97 278.73,87.54 279.4,79.2 280.07,91.5 280.74,84.85 281.41,86.04 282.08,92.21 282.75,92.42 283.42,90.55 284.09,88.24 284.76,92.48 285.43,92.75 286.1,90.4 286.77,86.66 287.44,87.88 288.11,87.93 288.78,88.02 289.45,85.26 290.12,85.96 290.78,92.11 291.45,91.66 292.12,90.57 292.79,93.1 293.46,85.92 294.13,91.41 294.8,91.17 295.47,88.09 296.14,88.21 296.81,92.38 297.48,88.52 298.15,88.74 298.82,84.91 299.49,88.74 300.16,87.36 300.83,88.2 301.5,93.18 302.17,88.72 302.84,89.39 303.51,94.5 304.18,88.56 304.85,85.37 305.52,86.97 306.19,85.29 306.86,87.77 307.53,92.29 308.2,88.18 308.87,86.13 309.54,85.24 310.21,91.12 310.88,87.2 311.55,93.42 312.22,86.44" fill="none" stroke="#9c96a2" stroke-width="0.5" stroke-opacity="0.36"/>
<polyline points="193,97.33 193.67,91.56 194.34,97.27 195.01,87.35 195.68,96.07 196.35,91.25 197.02,89.75 197.69,89.2 198.36,90.91 199.03,91.97 199.7,93.87 200.37,94.45 201.04,94.36 201.71,99.2 202.38,93.09 203.05,93.31 203.72,94.59 204.39,94.14 205.06,89.62 205.73,92.99 206.4,94.64 207.06,94.83 207.73,89.66 208.4,91.74 209.07,95.04 209.74,94.09 210.41,89.93 211.08,89.74 211.75,94.38 212.42,100.05 213.09,90.55 213.76,96.47 214.43,95.31 215.1,93.2 215.77,92.56 216.44,84.09 217.11,94.76 217.78,89.58 218.45,91.83 219.12,89.13 219.79,96.31 220.46,90.81 221.13,90.18 221.8,89.69 222.47,95.4 223.14,90.62 223.81,94.64 224.48,93.53 225.15,93.58 225.82,90.86 226.49,91.02 227.16,77.07 227.83,50.72 228.5,50.13 229.17,67.13 229.84,74.07 230.51,76.16 231.18,83.91 231.85,76.41 232.52,70.5 233.19,88.55 233.86,80.29 234.53,83.64 235.19,81.87 235.86,82.49 236.53,82.56 237.2,82.09 237.87,89.94 238.54,87.05 239.21,83.68 239.88,81.46 240.55,84.52 241.22,85.13 241.89,86.45 242.56,87.3 243.23,86.07 243.9,88.47 244.57,83.44 245.24,82.52 245.91,86.03 246.58,82.63 247.25,91 247.92,83.36 248.59,88.21 249.26,89.33 249.93,83.83 250.6,86.74 251.27,85.74 251.94,88.97 252.61,88.08 253.28,89.58 253.95,84.32 254.62,88.03 255.29,85.41 255.96,86.13 256.63,90.93 257.3,87.92 257.97,90.34 258.64,84.56 259.31,88.85 259.98,89.46 260.65,84.05 261.32,93.3 261.99,85.56 262.66,85.32 263.32,83.9 263.99,88.15 264.66,82.9 265.33,85.63 266,89.03 266.67,85.77 267.34,90.89 268.01,81.14 268.68,90.4 269.35,87.18 270.02,88.16 270.69,91.21 271.36,85.15 272.03,87.42 272.7,92.47 273.37,86.7 274.04,89.42 274.71,87.11 275.38,81.86 276.05,90.86 276.72,92.14 277.39,87.4 278.06,87.99 278.73,87.96 279.4,87.95 280.07,92.31 280.74,88.22 281.41,89.2 282.08,86.84 282.75,86.81 283.42,85.17 284.09,87.15 284.76,90.98 285.43,89.32 286.1,84.89 286.77,88.53 287.44,91.49 288.11,86.27 288.78,89.59 289.45,90.74 290.12,92.86 290.78,89.66 291.45,88.07 292.12,91.63 292.79,86.6 293.46,87.44 294.13,82.7 294.8,86.48 295.47,88.48 296.14,84.92 296.81,86.72 297.48,84.52 298.15,86.29 298.82,93.4 299.49,90.02 300.16,87.83 300.83,90.43 301.5,85.94 302.17,91.25 302.84,94.95 303.51,89.51 304.18,83.4 304.85,91.68 305.52,99.32 306.19,92.22 306.86,86.99 307.53,88.78 308.2,90.45 308.87,85.51 309.54,90.43 310.21,90.14 310.88,91.51 311.55,84.97 312.22,88.6" fill="none" stroke="#8b9c90" stroke-width="0.5" stroke-opacity="0.36"/>
<polyline points="193,92.56 193.67,94.25 194.34,90.28 195.01,91.15 195.68,90.65 196.35,96.64 197.02,98.08 197.69,96.57 198.36,97.15 199.03,88.65 199.7,88.57 200.37,95.88 201.04,87.08 201.71,95.38 202.38,94.34 203.05,84.85 203.72,95.87 204.39,89.51 205.06,89.14 205.73,88.21 206.4,89.65 207.06,90.95 207.73,86.84 208.4,92.01 209.07,91.44 209.74,90.48 210.41,92.84 211.08,92.21 211.75,87.88 212.42,86.57 213.09,89.82 213.76,92.1 214.43,93.33 215.1,92.99 215.77,92.92 216.44,93.16 217.11,92.03 217.78,92.46 218.45,88.31 219.12,96.27 219.79,93.05 220.46,89.15 221.13,93.05 221.8,93.06 222.47,89.98 223.14,92 223.81,94.83 224.48,91.26 225.15,89.72 225.82,97.14 226.49,88.83 227.16,76.44 227.83,46.62 228.5,56.88 229.17,62.43 229.84,71.38 230.51,70.26 231.18,78.5 231.85,81.13 232.52,83.26 233.19,80.99 233.86,83.04 234.53,79.96 235.19,81.85 235.86,79.56 236.53,81.58 237.2,83.56 237.87,84.59 238.54,82.62 239.21,82.38 239.88,89.29 240.55,83.93 241.22,86.52 241.89,84.49 242.56,83.12 243.23,91.92 243.9,86.28 244.57,82.83 245.24,91.68 245.91,85.52 246.58,86.28 247.25,88.22 247.92,83.62 248.59,83.63 249.26,86.57 249.93,82.21 250.6,82.12 251.27,86.2 251.94,84.22 252.61,84.17 253.28,81.5 253.95,84.49 254.62,84.93 255.29,86.79 255.96,84.9 256.63,82.24 257.3,87.55 257.97,87.68 258.64,90.47 259.31,79.25 259.98,88.73 260.65,89.12 261.32,89.37 261.99,83.82 262.66,86.5 263.32,94.14 263.99,87.24 264.66,81.89 265.33,87.92 266,87.43 266.67,78.64 267.34,88.64 268.01,88.58 268.68,85.9 269.35,80.21 270.02,86.59 270.69,93.19 271.36,88.52 272.03,88.78 272.7,85.72 273.37,89.29 274.04,87.73 274.71,92.27 275.38,92.25 276.05,88.06 276.72,83.05 277.39,91.4 278.06,93.4 278.73,84.58 279.4,87.14 280.07,85.85 280.74,88.97 281.41,87.66 282.08,88.76 282.75,88.49 283.42,82.81 284.09,89.82 284.76,89.82 285.43,88.56 286.1,89.19 286.77,83.23 287.44,89.16 288.11,87.42 288.78,92.61 289.45,86.97 290.12,86.67 290.78,86.65 291.45,93.89 292.12,90.78 292.79,97.22 293.46,83.5 294.13,89.17 294.8,83.64 295.47,82.74 296.14,85.62 296.81,90.96 297.48,89.63 298.15,86.45 298.82,95.24 299.49,84.57 300.16,84.29 300.83,86.24 301.5,89.95 302.17,87.9 302.84,94.19 303.51,92.14 304.18,90.55 304.85,91.54 305.52,83.81 306.19,87.71 306.86,96.91 307.53,85.52 308.2,87.6 308.87,89.97 309.54,91.54 310.21,82.62 310.88,88.5 311.55,88.43 312.22,94.42" fill="none" stroke="#a49c9c" stroke-width="0.5" stroke-opacity="0.36"/>
<polyline points="193,106.24 193.67,98.84 194.34,90.87 195.01,94.9 195.68,97.56 196.35,89.31 197.02,91.53 197.69,97.39 198.36,85.44 199.03,87.62 199.7,90.41 200.37,90.14 201.04,97.96 201.71,99.58 202.38,99.02 203.05,96 203.72,87.94 204.39,75.56 205.06,94.61 205.73,85.92 206.4,81.67 207.06,94.01 207.73,81.78 208.4,87.72 209.07,88.7 209.74,93.61 210.41,80.59 211.08,84.14 211.75,87.57 212.42,90.5 213.09,93.35 213.76,89.74 214.43,81.83 215.1,81.52 215.77,94.21 216.44,90.85 217.11,97.7 217.78,81.84 218.45,89.66 219.12,87.39 219.79,92.43 220.46,83.29 221.13,93.52 221.8,98.65 222.47,88.58 223.14,103.03 223.81,82.99 224.48,86.6 225.15,104.76 225.82,92.22 226.49,92.15 227.16,68.89 227.83,37.04 228.5,58.31 229.17,63.21 229.84,54.7 230.51,82.91 231.18,79.37 231.85,76.6 232.52,75.46 233.19,81.81 233.86,91.6 234.53,96.47 235.19,71.69 235.86,73.41 236.53,90.5 237.2,101.84 237.87,90.53 238.54,81.7 239.21,85.16 239.88,76.81 240.55,90.65 241.22,90.67 241.89,84.49 242.56,93.56 243.23,92.74 243.9,88.92 244.57,94.47 245.24,80.64 245.91,83.02 246.58,91.31 247.25,89.77 247.92,77.98 248.59,97.06 249.26,84.44 249.93,87.35 250.6,99.18 251.27,95.85 251.94,90.13 252.61,83.18 253.28,88.52 253.95,89.3 254.62,90.99 255.29,87.91 255.96,81.19 256.63,77.97 257.3,93.09 257.97,95.35 258.64,84.27 259.31,89.25 259.98,84.25 260.65,90.99 261.32,98.86 261.99,74.98 262.66,77.78 263.32,86.59 263.99,80.14 264.66,86.17 265.33,80.05 266,90.48 266.67,90.55 267.34,99.57 268.01,82.33 268.68,82.39 269.35,91.5 270.02,84.59 270.69,80.38 271.36,100.23 272.03,84.72 272.7,92.8 273.37,101.69 274.04,87.65 274.71,107.21 275.38,88 276.05,91.83 276.72,90.84 277.39,97.53 278.06,82.32 278.73,77.32 279.4,85.6 280.07,84.4 280.74,99.94 281.41,90.4 282.08,88.07 282.75,88.9 283.42,91.21 284.09,90.22 284.76,89.05 285.43,84.11 286.1,88.52 286.77,95.63 287.44,97.19 288.11,89.32 288.78,89 289.45,88.5 290.12,78.24 290.78,95.03 291.45,86.97 292.12,87.43 292.79,96.6 293.46,86.32 294.13,89.14 294.8,94.37 295.47,91.14 296.14,78.96 296.81,86.89 297.48,96.78 298.15,94.41 298.82,78.59 299.49,86.77 300.16,82.24 300.83,89.87 301.5,84.72 302.17,88.13 302.84,95.31 303.51,97.78 304.18,91.25 304.85,82.22 305.52,101.03 306.19,82.8 306.86,87.84 307.53,105.19 308.2,84.01 308.87,93.82 309.54,86.92 310.21,87.95 310.88,86.86 311.55,87.55 312.22,92.21" fill="none" stroke="#8b9c90" stroke-width="0.5" stroke-opacity="0.18"/>
<polyline points="193,93.45 193.67,90.43 194.34,96.23 195.01,90.42 195.68,92.61 196.35,92.51 197.02,88.59 197.69,90.36 198.36,96.84 199.03,85.23 199.7,92.14 200.37,96.95 201.04,92.76 201.71,90.14 202.38,95.31 203.05,94.47 203.72,97.46 204.39,90.83 205.06,93.4 205.73,86.8 206.4,90.82 207.06,90.92 207.73,93.67 208.4,88.55 209.07,96.12 209.74,90.8 210.41,90.16 211.08,94.22 211.75,95.52 212.42,87.99 213.09,85.82 213.76,90.45 214.43,85.81 215.1,90.22 215.77,92.31 216.44,93 217.11,95.64 217.78,88.75 218.45,93.53 219.12,93.76 219.79,90.53 220.46,90.15 221.13,94.08 221.8,91.04 222.47,92.21 223.14,91.28 223.81,92.17 224.48,93.07 225.15,99.53 225.82,93.63 226.49,87.88 227.16,72 227.83,49.23 228.5,47 229.17,68.74 229.84,70.75 230.51,76.87 231.18,76.22 231.85,77.81 232.52,80.62 233.19,82.33 233.86,79.19 234.53,82.35 235.19,87.92 235.86,79.48 236.53,82.37 237.2,86.01 237.87,84.57 238.54,87.67 239.21,84.38 239.88,89.76 240.55,81.96 241.22,83.85 241.89,88.72 242.56,84.05 243.23,90.47 243.9,87.63 244.57,89.25 245.24,83.92 245.91,84 246.58,90.67 247.25,85.84 247.92,84.89 248.59,87.68 249.26,78.85 249.93,91.79 250.6,82.52 251.27,82.03 251.94,88.05 252.61,90.63 253.28,83.17 253.95,95.08 254.62,87.28 255.29,91.81 255.96,87.32 256.63,89.14 257.3,91.54 257.97,85.6 258.64,83.71 259.31,91.89 259.98,85.43 260.65,87.26 261.32,89.8 261.99,89.37 262.66,85.9 263.32,84.12 263.99,88.68 264.66,95.74 265.33,85.28 266,86.6 266.67,94.17 267.34,89.64 268.01,88.03 268.68,88.96 269.35,87.09 270.02,90.94 270.69,86.05 271.36,96.99 272.03,87.04 272.7,90.11 273.37,88.64 274.04,86.17 274.71,83.92 275.38,91.62 276.05,88.69 276.72,91.69 277.39,88.28 278.06,90.33 278.73,92.34 279.4,84.9 280.07,87.38 280.74,88.54 281.41,84.31 282.08,93.89 282.75,87.36 283.42,83.47 284.09,89.83 284.76,91.51 285.43,91.29 286.1,84.78 286.77,85.35 287.44,87.74 288.11,85.82 288.78,91 289.45,90.11 290.12,86.22 290.78,91.95 291.45,88.23 292.12,89.04 292.79,91.71 293.46,88.33 294.13,93.13 294.8,91.11 295.47,95.44 296.14,93.16 296.81,91.94 297.48,87.95 298.15,89.1 298.82,93.2 299.49,89.99 300.16,81.93 300.83,88.97 301.5,87.92 302.17,96.07 302.84,90.89 303.51,85.6 304.18,93.94 304.85,92.22 305.52,91.74 306.19,89.78 306.86,87.44 307.53,95.03 308.2,87.2 308.87,97.93 309.54,92.39 310.21,88.14 310.88,93.23 311.55,92.22 312.22,91.24" fill="none" stroke="#8b9c90" stroke-width="0.5" stroke-opacity="0.36"/>
<polyline points="193,90.86 193.67,98.12 194.34,95.87 195.01,91.67 195.68,91.8 196.35,88.44 197.02,87.83 197.69,92.41 198.36,93.99 199.03,90.16 199.7,91.91 200.37,88.28 201.04,86.73 201.71,89.4 202.38,88.5 203.05,89.49 203.72,92.26 204.39,95.07 205.06,88.47 205.73,89.36 206.4,91.22 207.06,93.5 207.73,96.99 208.4,90.2 209.07,92.39 209.74,91.11 210.41,93.7 211.08,92.19 211.75,96.26 212.42,88.38 213.09,91.39 213.76,91.54 214.43,92.47 215.1,92.4 215.77,92.12 216.44,96.4 217.11,96.7 217.78,92.47 218.45,93.3 219.12,94.86 219.79,92.1 220.46,90.49 221.13,91.11 221.8,94.21 222.47,89.82 223.14,92.31 223.81,99.26 224.48,90.48 225.15,94.81 225.82,88.86 226.49,94.49 227.16,71.04 227.83,51.03 228.5,44.3 229.17,62.15 229.84,70.45 230.51,67.38 231.18,73.51 231.85,82.8 232.52,83.63 233.19,77.91 233.86,82.74 234.53,81.95 235.19,80.33 235.86,82.16 236.53,87.71 237.2,82.21 237.87,81.36 238.54,82.55 239.21,89.2 239.88,85.18 240.55,84.26 241.22,86.95 241.89,87.8 242.56,86.69 243.23,89.9 243.9,83.67 244.57,85.24 245.24,85.46 245.91,80.22 246.58,89.96 247.25,90.56 247.92,84.45 248.59,89.7 249.26,88.43 249.93,85.3 250.6,88.05 251.27,85.28 251.94,87.58 252.61,93.19 253.28,86.92 253.95,86.63 254.62,86.44 255.29,87.94 255.96,88.23 256.63,86.02 257.3,85.79 257.97,88.26 258.64,86.39 259.31,86.44 259.98,92.19 260.65,93.69 261.32,92.11 261.99,83.61 262.66,86.03 263.32,88.81 263.99,90.04 264.66,91.45 265.33,86.75 266,88.1 266.67,86.72 267.34,87.96 268.01,85.71 268.68,79.89 269.35,91.17 270.02,90.11 270.69,82.71 271.36,90.91 272.03,87.45 272.7,88.49 273.37,88.76 274.04,84.02 274.71,90.9 275.38,87.53 276.05,91.18 276.72,85.73 277.39,87.01 278.06,90.07 278.73,83.09 279.4,87.42 280.07,88.82 280.74,86.72 281.41,85.11 282.08,85.03 282.75,89.08 283.42,91.64 284.09,89.15 284.76,88.51 285.43,86.75 286.1,90.11 286.77,91.21 287.44,89.45 288.11,81.54 288.78,91.7 289.45,85.91 290.12,90.55 290.78,84.61 291.45,85.7 292.12,87.53 292.79,83.84 293.46,90.7 294.13,85.84 294.8,90.14 295.47,95.92 296.14,89.21 296.81,87.45 297.48,94.29 298.15,90.21 298.82,90.54 299.49,86.26 300.16,88.97 300.83,96.53 301.5,92.55 302.17,90.63 302.84,90.87 303.51,88.77 304.18,90.98 304.85,88.92 305.52,91.92 306.19,85.78 306.86,86.42 307.53,88.22 308.2,88.17 308.87,89.71 309.54,91.63 310.21,91.33 310.88,83.94 311.55,86.05 312.22,89.68" fill="none" stroke="#96a0b0" stroke-width="0.5" stroke-opacity="0.36"/>
<polyline points="193,94.46 193.67,96.19 194.34,93.37 195.01,96.94 195.68,91.48 196.35,93.34 197.02,95.05 197.69,92.93 198.36,85.6 199.03,93.45 199.7,93.71 200.37,91.54 201.04,102.08 201.71,92.78 202.38,93.54 203.05,92.15 203.72,92.06 204.39,90.93 205.06,93.3 205.73,92.49 206.4,98.78 207.06,91.21 207.73,89.18 208.4,92.16 209.07,94.18 209.74,91.36 210.41,95.48 211.08,92.57 211.75,97.02 212.42,90.09 213.09,94.17 213.76,88.85 214.43,94.3 215.1,87.26 215.77,88.49 216.44,94.54 217.11,95.69 217.78,87.21 218.45,84.92 219.12,88.32 219.79,91.67 220.46,89.62 221.13,89.74 221.8,90.42 222.47,93.55 223.14,97.73 223.81,89.02 224.48,89.77 225.15,93.89 225.82,92.73 226.49,92.12 227.16,73.11 227.83,58.68 228.5,51.16 229.17,63.57 229.84,63.38 230.51,83.22 231.18,77.85 231.85,82.31 232.52,83.49 233.19,86.83 233.86,85.53 234.53,79.92 235.19,85.08 235.86,77.52 236.53,87.25 237.2,88.45 237.87,84.61 238.54,83.85 239.21,88.8 239.88,84.58 240.55,84.63 241.22,79.55 241.89,84.61 242.56,83.54 243.23,84.67 243.9,91.4 244.57,87.69 245.24,86.3 245.91,89.1 246.58,86.83 247.25,86.21 247.92,85.33 248.59,87.91 249.26,87.11 249.93,86.58 250.6,85.61 251.27,92.69 251.94,91.55 252.61,88.46 253.28,87.32 253.95,89.49 254.62,90.4 255.29,85.78 255.96,91.47 256.63,86.33 257.3,90.62 257.97,87.3 258.64,88.7 259.31,82.33 259.98,86.88 260.65,85.56 261.32,87.64 261.99,83.29 262.66,89.43 263.32,87.03 263.99,92.86 264.66,87.73 265.33,89.69 266,86.67 266.67,90.96 267.34,80.5 268.01,91.03 268.68,92.78 269.35,90.07 270.02,88.09 270.69,91.54 271.36,86.46 272.03,89.64 272.7,87.24 273.37,90.92 274.04,96.21 274.71,87.6 275.38,83.04 276.05,88.79 276.72,89.43 277.39,88.9 278.06,84.83 278.73,85.97 279.4,90.57 280.07,89 280.74,87.27 281.41,87.41 282.08,83.75 282.75,90.26 283.42,91.06 284.09,94.06 284.76,86.8 285.43,94.76 286.1,92.19 286.77,83.01 287.44,92.62 288.11,91.15 288.78,90.95 289.45,88.91 290.12,92.5 290.78,80.74 291.45,92.38 292.12,88.46 292.79,84.57 293.46,87.89 294.13,88.18 294.8,87.63 295.47,93.06 296.14,90.55 296.81,89.08 297.48,87.35 298.15,87.72 298.82,94.51 299.49,89.89 300.16,87.35 300.83,92.75 301.5,89.34 302.17,88.68 302.84,87.57 303.51,86.85 304.18,91.33 304.85,94 305.52,91.79 306.19,94.42 306.86,91.09 307.53,88.18 308.2,93.05 308.87,85.22 309.54,93.6 310.21,91.63 310.88,88.23 311.55,86.16 312.22,92.35" fill="none" stroke="#889294" stroke-width="0.5" stroke-opacity="0.36"/>
<polyline points="193,85.03 193.67,91.05 194.34,101.43 195.01,82.61 195.68,73.75 196.35,86.82 197.02,81.73 197.69,84.94 198.36,94.8 199.03,88 199.7,96.4 200.37,95.63 201.04,88.37 201.71,91.41 202.38,96.19 203.05,101.03 203.72,86.84 204.39,91.96 205.06,91.05 205.73,97.62 206.4,96.94 207.06,92.28 207.73,103.89 208.4,84.24 209.07,91.83 209.74,84.99 210.41,85.84 211.08,95.6 211.75,88.69 212.42,99.11 213.09,97.79 213.76,83.43 214.43,95.37 215.1,96.93 215.77,88.94 216.44,91.8 217.11,85.73 217.78,100.1 218.45,93.58 219.12,98.83 219.79,91.77 220.46,93.69 221.13,97.96 221.8,103.08 222.47,100.62 223.14,85.99 223.81,94.3 224.48,98.92 225.15,90.82 225.82,99.11 226.49,86.06 227.16,65.61 227.83,50.09 228.5,56.37 229.17,82.63 229.84,66.52 230.51,55.07 231.18,76.44 231.85,83.43 232.52,75.97 233.19,84.35 233.86,90.27 234.53,83.67 235.19,79.56 235.86,95.44 236.53,77.41 237.2,73.92 237.87,84.75 238.54,87.91 239.21,94.12 239.88,81.79 240.55,87.2 241.22,77.79 241.89,75.76 242.56,77.92 243.23,84.86 243.9,97.76 244.57,77.8 245.24,89.43 245.91,89.52 246.58,79.67 247.25,83.58 247.92,93.38 248.59,88.93 249.26,88.7 249.93,87.88 250.6,94.53 251.27,77.53 251.94,87.96 252.61,82.98 253.28,80.47 253.95,73.43 254.62,82.71 255.29,92.04 255.96,90.24 256.63,81.91 257.3,76.96 257.97,96.91 258.64,75.35 259.31,91.25 259.98,88.92 260.65,90.5 261.32,83.99 261.99,89.06 262.66,88.12 263.32,93.79 263.99,78.6 264.66,85.67 265.33,88.27 266,74.43 266.67,83.9 267.34,79.29 268.01,89.85 268.68,87.25 269.35,89.16 270.02,82.66 270.69,86.4 271.36,99.08 272.03,84.62 272.7,89.74 273.37,86.74 274.04,82.23 274.71,90.17 275.38,84.37 276.05,88.34 276.72,89.06 277.39,91.76 278.06,89.23 278.73,90.54 279.4,83.56 280.07,103.33 280.74,84.98 281.41,89.15 282.08,95.39 282.75,83.7 283.42,88.95 284.09,85.2 284.76,80.21 285.43,87.41 286.1,98.98 286.77,99.06 287.44,89.23 288.11,96.59 288.78,75.21 289.45,89.53 290.12,100.41 290.78,102.84 291.45,92.47 292.12,104.45 292.79,85.93 293.46,103.79 294.13,83.48 294.8,92.2 295.47,81.95 296.14,96.6 296.81,92.07 297.48,82.16 298.15,99.5 298.82,84.92 299.49,79.97 300.16,95.62 300.83,90.22 301.5,78.64 302.17,79.81 302.84,78.9 303.51,89.95 304.18,91.66 304.85,90.42 305.52,91.76 306.19,84.1 306.86,83.96 307.53,86.09 308.2,93.78 308.87,84.41 309.54,86.25 310.21,87.94 310.88,81.58 311.55,91.87 312.22,88.67" fill="none" stroke="#a49c9c" stroke-width="0.5" stroke-opacity="0.18"/>
<polyline points="193,88.26 193.67,92.32 194.34,90.87 195.01,91.02 195.68,93.95 196.35,91.64 197.02,87.69 197.69,91.72 198.36,93.7 199.03,85.8 199.7,89.93 200.37,87.63 201.04,91.61 201.71,90.07 202.38,98.68 203.05,89.85 203.72,91.52 204.39,88.75 205.06,87.79 205.73,94.57 206.4,90.3 207.06,93 207.73,90.6 208.4,88.68 209.07,91.78 209.74,91.2 210.41,89.35 211.08,90.08 211.75,83.26 212.42,90.13 213.09,91.03 213.76,89.59 214.43,90.08 215.1,92.27 215.77,93.77 216.44,94.16 217.11,91.17 217.78,90.08 218.45,90.94 219.12,94.89 219.79,94.7 220.46,92.28 221.13,98.33 221.8,89.85 222.47,94.3 223.14,94.23 223.81,91.92 224.48,91.28 225.15,98.27 225.82,90.28 226.49,87.53 227.16,74.65 227.83,45.83 228.5,53.97 229.17,68.94 229.84,67.91 230.51,76.54 231.18,75.78 231.85,77.22 232.52,77.5 233.19,79.56 233.86,80.32 234.53,84.74 235.19,82.35 235.86,79.09 236.53,84.74 237.2,85.08 237.87,82.9 238.54,88.57 239.21,86.33 239.88,82.52 240.55,87.53 241.22,82.51 241.89,87.7 242.56,86.02 243.23,87.03 243.9,84.57 244.57,87.25 245.24,89.63 245.91,88.97 246.58,93.39 247.25,91.01 247.92,83.06 248.59,84.68 249.26,87.62 249.93,88.79 250.6,89.93 251.27,90.26 251.94,89.78 252.61,90.22 253.28,85.42 253.95,87.27 254.62,87.89 255.29,84.61 255.96,86.63 256.63,82.91 257.3,90.9 257.97,93.12 258.64,91.19 259.31,90.83 259.98,84.68 260.65,80.77 261.32,88.55 261.99,87.7 262.66,90.96 263.32,87.99 263.99,80.29 264.66,85.96 265.33,90.34 266,90.62 266.67,86.07 267.34,87.02 268.01,85.17 268.68,81.12 269.35,82.74 270.02,86.11 270.69,87.74 271.36,84.5 272.03,92.53 272.7,84.2 273.37,87.21 274.04,81.49 274.71,88.49 275.38,87.36 276.05,87.59 276.72,82.96 277.39,93.49 278.06,93.55 278.73,86.18 279.4,85.54 280.07,87.35 280.74,90.96 281.41,88.96 282.08,90.86 282.75,93.28 283.42,88.21 284.09,87.38 284.76,84.65 285.43,90.56 286.1,90.82 286.77,81.8 287.44,87.98 288.11,90.76 288.78,89.64 289.45,88.29 290.12,90.5 290.78,85.38 291.45,89.05 292.12,90.37 292.79,82.89 293.46,84.79 294.13,84.69 294.8,86.36 295.47,90.38 296.14,91.79 296.81,83.72 297.48,89.59 298.15,86.09 298.82,85.86 299.49,95.75 300.16,95.07 300.83,84.33 301.5,92.52 302.17,88.64 302.84,92.79 303.51,89.61 304.18,89.32 304.85,83.43 305.52,91.82 306.19,96.53 306.86,89.09 307.53,89.27 308.2,94.11 308.87,86.18 309.54,88.66 310.21,87.49 310.88,87.38 311.55,89.28 312.22,89.61" fill="none" stroke="#96a0b0" stroke-width="0.5" stroke-opacity="0.36"/>
<polyline points="193,90.32 193.67,94.41 194.34,98.81 195.01,85.27 195.68,93.23 196.35,94.87 197.02,89.45 197.69,89.21 198.36,89.58 199.03,91.33 199.7,90.88 200.37,92.7 201.04,92.34 201.71,91.85 202.38,93.75 203.05,97.66 203.72,88.69 204.39,96.39 205.06,85.37 205.73,92.05 206.4,87 207.06,98.62 207.73,91.2 208.4,89.83 209.07,92.05 209.74,92.83 210.41,86.96 211.08,92.82 211.75,89.26 212.42,92.28 213.09,91.8 213.76,90.7 214.43,89.61 215.1,89.5 215.77,95.69 216.44,89.98 217.11,89.81 217.78,92.71 218.45,91.94 219.12,90.36 219.79,87.94 220.46,93.17 221.13,89.33 221.8,91.93 222.47,88.43 223.14,93.65 223.81,88.67 224.48,93.19 225.15,91.13 225.82,86.57 226.49,84.81 227.16,66.22 227.83,50.4 228.5,47.34 229.17,68.47 229.84,68.48 230.51,80.98 231.18,76 231.85,84.77 232.52,78.51 233.19,81.22 233.86,78.35 234.53,85.29 235.19,83.61 235.86,78.84 236.53,81.44 237.2,84.07 237.87,79.78 238.54,84.95 239.21,85.01 239.88,83.55 240.55,81.61 241.22,89.07 241.89,78.2 242.56,85.31 243.23,81.42 243.9,87.41 244.57,88.92 245.24,86.6 245.91,82.78 246.58,87.16 247.25,89.01 247.92,90.81 248.59,84.84 249.26,79.72 249.93,86.04 250.6,84.86 251.27,91.17 251.94,88.32 252.61,81.35 253.28,89.7 253.95,90.67 254.62,91.7 255.29,88.78 255.96,89.12 256.63,91.61 257.3,82.37 257.97,87.89 258.64,92.13 259.31,78.07 259.98,89.17 260.65,87.1 261.32,87.72 261.99,88.1 262.66,85.11 263.32,83.01 263.99,88.81 264.66,91.28 265.33,83.85 266,84.59 266.67,86.07 267.34,90.17 268.01,87.45 268.68,85.71 269.35,78.69 270.02,89.01 270.69,85.85 271.36,87.17 272.03,82.97 272.7,85.41 273.37,79.13 274.04,88.76 274.71,83.51 275.38,90.49 276.05,87.4 276.72,87.15 277.39,87.06 278.06,88.21 278.73,85.74 279.4,87.72 280.07,93.28 280.74,87.48 281.41,86.18 282.08,91.22 282.75,88.14 283.42,89.02 284.09,94.2 284.76,89.2 285.43,89.83 286.1,87.27 286.77,90.49 287.44,86.09 288.11,92.38 288.78,88.9 289.45,83.73 290.12,93.44 290.78,90.11 291.45,87.11 292.12,92.3 292.79,88.77 293.46,84.64 294.13,91.94 294.8,87.86 295.47,90.71 296.14,94.51 296.81,86.38 297.48,91 298.15,93.12 298.82,88.2 299.49,82.98 300.16,91.65 300.83,88.75 301.5,93.06 302.17,89.68 302.84,93.79 303.51,91.82 304.18,87.37 304.85,90.69 305.52,90 306.19,89.87 306.86,88.68 307.53,86.55 308.2,89.53 308.87,101.57 309.54,88.76 310.21,83.65 310.88,89.59 311.55,89.08 312.22,89.49" fill="none" stroke="#aca4b4" stroke-width="0.5" stroke-opacity="0.36"/>
<polyline points="193,89.11 193.67,92.36 194.34,94.91 195.01,93.23 195.68,90.39 196.35,93.78 197.02,93.81 197.69,91.54 198.36,92.7 199.03,91.65 199.7,93.66 200.37,87.7 201.04,96.16 201.71,92.67 202.38,90.6 203.05,91.22 203.72,89.63 204.39,85.98 205.06,92.54 205.73,91.34 206.4,91.7 207.06,95.06 207.73,93.04 208.4,97.61 209.07,93.76 209.74,90.85 210.41,93.24 211.08,88.26 211.75,92.46 212.42,93.57 213.09,91.42 213.76,91.61 214.43,89.7 215.1,92.54 215.77,87.8 216.44,91.89 217.11,89.21 217.78,90.82 218.45,90.98 219.12,88.83 219.79,93.6 220.46,93.39 221.13,91.26 221.8,91.25 222.47,91.81 223.14,91.55 223.81,92.7 224.48,92.65 225.15,88.15 225.82,96.59 226.49,90.37 227.16,75.51 227.83,53.63 228.5,46.27 229.17,61.9 229.84,72.1 230.51,69.71 231.18,80.3 231.85,79.05 232.52,80.11 233.19,80.87 233.86,77.92 234.53,81.22 235.19,78.99 235.86,84.53 236.53,82.45 237.2,79.97 237.87,87.04 238.54,84.57 239.21,84.03 239.88,87.43 240.55,85.58 241.22,84.48 241.89,85.19 242.56,78.42 243.23,90.99 243.9,85.27 244.57,88.59 245.24,86.01 245.91,88.62 246.58,83.32 247.25,87.84 247.92,82.92 248.59,83.47 249.26,86.19 249.93,84.01 250.6,84.39 251.27,93.85 251.94,88.3 252.61,82.27 253.28,91.96 253.95,89.66 254.62,86.27 255.29,86.3 255.96,88.61 256.63,88.17 257.3,86.59 257.97,85.38 258.64,92.38 259.31,85.66 259.98,88.47 260.65,85.02 261.32,91.89 261.99,91.02 262.66,88.68 263.32,86.5 263.99,91.21 264.66,80.91 265.33,90.3 266,90.59 266.67,84.96 267.34,94.23 268.01,85.03 268.68,86.05 269.35,90.65 270.02,89.99 270.69,86.04 271.36,90.6 272.03,92.27 272.7,91.05 273.37,90.93 274.04,88.44 274.71,88.61 275.38,93.23 276.05,87.69 276.72,89.14 277.39,94.28 278.06,87.31 278.73,81.19 279.4,84.09 280.07,89.38 280.74,87.62 281.41,90.49 282.08,87.73 282.75,86.53 283.42,95.3 284.09,90.09 284.76,93.09 285.43,82.65 286.1,88.26 286.77,89.6 287.44,77.65 288.11,86.71 288.78,94.41 289.45,88.84 290.12,87.09 290.78,90.98 291.45,82.47 292.12,88.31 292.79,85.99 293.46,90.32 294.13,89.24 294.8,89.42 295.47,84.91 296.14,90.68 296.81,84.19 297.48,89.76 298.15,90.38 298.82,87.55 299.49,95.54 300.16,89.73 300.83,93.08 301.5,90.03 302.17,88.86 302.84,87.43 303.51,89.03 304.18,86.51 304.85,96.83 305.52,87.93 306.19,89.61 306.86,87.01 307.53,89.76 308.2,96.92 308.87,89.11 309.54,86.67 310.21,90.36 310.88,88.81 311.55,86 312.22,87.18" fill="none" stroke="#9c96a2" stroke-width="0.5" stroke-opacity="0.36"/>
</g>
<polyline points="193,91.76 193.6,91.76 194.2,91.76 194.79,91.76 195.39,91.76 195.99,91.76 196.59,91.76 197.19,91.76 197.78,91.76 198.38,91.76 198.98,91.76 199.58,91.76 200.18,91.76 200.77,91.76 201.37,91.76 201.97,91.76 202.57,91.76 203.17,91.76 203.76,91.76 204.36,91.76 204.96,91.76 205.56,91.76 206.16,91.76 206.75,91.76 207.35,91.76 207.95,91.76 208.55,91.76 209.15,91.76 209.74,91.76 210.34,91.76 210.94,91.76 211.54,91.76 212.14,91.76 212.73,91.76 213.33,91.76 213.93,91.76 214.53,91.76 215.13,91.76 215.72,91.76 216.32,91.76 216.92,91.76 217.52,91.76 218.12,91.76 218.71,91.76 219.31,91.76 219.91,91.76 220.51,91.76 221.11,91.76 221.7,91.76 222.3,91.76 222.9,91.76 223.5,91.76 224.1,91.76 224.69,91.76 225.29,91.76 225.89,91.76 226.49,91.76" fill="none" stroke="#f07a5a" stroke-width="4" stroke-linejoin="round" stroke-opacity="0.4"/>
<polyline points="232.95,81.43 233.14,81.64 233.33,81.83 233.52,82.01 233.71,82.18 233.9,82.34 234.09,82.48 234.29,82.62 234.48,82.76 234.67,82.88 234.86,83 235.05,83.12 235.24,83.23 235.43,83.33 235.63,83.44 235.82,83.53 236.01,83.63 236.2,83.72 236.39,83.81 236.58,83.9 236.77,83.98 236.96,84.06 237.16,84.14 237.35,84.22 237.54,84.29 237.73,84.36 237.92,84.43 238.11,84.5 238.3,84.57 238.5,84.63 238.69,84.7 238.88,84.76 239.07,84.82 239.26,84.88 239.45,84.93 239.64,84.99 239.84,85.04 240.03,85.1 240.22,85.15 240.41,85.2 240.6,85.25 240.79,85.3 240.98,85.35 241.17,85.39 241.37,85.44 241.56,85.48 241.75,85.52 241.94,85.57 242.13,85.61 242.32,85.65 242.51,85.69 242.71,85.73 242.9,85.76 243.09,85.8 243.28,85.84 243.47,85.87 243.66,85.91 243.85,85.94 244.05,85.98 244.24,86.01 244.43,86.04 244.62,86.07 244.81,86.1 245,86.13 245.19,86.16 245.38,86.19 245.58,86.22 245.77,86.25 245.96,86.28 246.15,86.31 246.34,86.33 246.53,86.36 246.72,86.38 246.92,86.41 247.11,86.43 247.3,86.46 247.49,86.48 247.68,86.51 247.87,86.53 248.06,86.55 248.26,86.58 248.45,86.6 248.64,86.62 248.83,86.64 249.02,86.66 249.21,86.69 249.4,86.71 249.59,86.73 249.79,86.75 249.98,86.77 250.17,86.79 250.36,86.81 250.55,86.82 250.74,86.84 250.93,86.86 251.13,86.88 251.32,86.9 251.51,86.92 251.7,86.93 251.89,86.95 252.08,86.97 252.27,86.99 252.47,87 252.66,87.02 252.85,87.04 253.04,87.05 253.23,87.07 253.42,87.09 253.61,87.1 253.8,87.12 254,87.13 254.19,87.15 254.38,87.16 254.57,87.18 254.76,87.19 254.95,87.21 255.14,87.22 255.34,87.24 255.53,87.25 255.72,87.26 255.91,87.28 256.1,87.29 256.29,87.31 256.48,87.32 256.68,87.33 256.87,87.35 257.06,87.36 257.25,87.37 257.44,87.39 257.63,87.4 257.82,87.41 258.01,87.43 258.21,87.44 258.4,87.45 258.59,87.46 258.78,87.48 258.97,87.49 259.16,87.5 259.35,87.51 259.55,87.53 259.74,87.54 259.93,87.55 260.12,87.56 260.31,87.57 260.5,87.58 260.69,87.6 260.88,87.61 261.08,87.62 261.27,87.63 261.46,87.64 261.65,87.65 261.84,87.66 262.03,87.68 262.22,87.69 262.42,87.7 262.61,87.71 262.8,87.72 262.99,87.73 263.18,87.74 263.37,87.75 263.56,87.76 263.76,87.77 263.95,87.78 264.14,87.79 264.33,87.8 264.52,87.81 264.71,87.83 264.9,87.84 265.09,87.85 265.29,87.86 265.48,87.87 265.67,87.88 265.86,87.89 266.05,87.9 266.24,87.91 266.43,87.92 266.63,87.93 266.82,87.93 267.01,87.94 267.2,87.95 267.39,87.96 267.58,87.97 267.77,87.98 267.97,87.99 268.16,88 268.35,88.01 268.54,88.02 268.73,88.03 268.92,88.04 269.11,88.05 269.3,88.06 269.5,88.07 269.69,88.08 269.88,88.08 270.07,88.09 270.26,88.1 270.45,88.11 270.64,88.12 270.84,88.13 271.03,88.14 271.22,88.15 271.41,88.16 271.6,88.16 271.79,88.17 271.98,88.18 272.18,88.19 272.37,88.2 272.56,88.21 272.75,88.22 272.94,88.22 273.13,88.23 273.32,88.24 273.51,88.25 273.71,88.26 273.9,88.27 274.09,88.27 274.28,88.28 274.47,88.29 274.66,88.3 274.85,88.31 275.05,88.31 275.24,88.32 275.43,88.33 275.62,88.34 275.81,88.35 276,88.35 276.19,88.36 276.39,88.37 276.58,88.38 276.77,88.39 276.96,88.39 277.15,88.4 277.34,88.41 277.53,88.42 277.72,88.42 277.92,88.43 278.11,88.44 278.3,88.45 278.49,88.45 278.68,88.46 278.87,88.47 279.06,88.48 279.26,88.48 279.45,88.49 279.64,88.5 279.83,88.51 280.02,88.51 280.21,88.52 280.4,88.53 280.6,88.53 280.79,88.54 280.98,88.55 281.17,88.56 281.36,88.56 281.55,88.57 281.74,88.58 281.93,88.58 282.13,88.59 282.32,88.6 282.51,88.6 282.7,88.61 282.89,88.62 283.08,88.63 283.27,88.63 283.47,88.64 283.66,88.65 283.85,88.65 284.04,88.66 284.23,88.67 284.42,88.67 284.61,88.68 284.8,88.69 285,88.69 285.19,88.7 285.38,88.71 285.57,88.71 285.76,88.72 285.95,88.73 286.14,88.73 286.34,88.74 286.53,88.74 286.72,88.75 286.91,88.76 287.1,88.76 287.29,88.77 287.48,88.78 287.68,88.78 287.87,88.79 288.06,88.8 288.25,88.8 288.44,88.81 288.63,88.81 288.82,88.82 289.01,88.83 289.21,88.83 289.4,88.84 289.59,88.84 289.78,88.85 289.97,88.86 290.16,88.86 290.35,88.87 290.55,88.87 290.74,88.88 290.93,88.89 291.12,88.89 291.31,88.9 291.5,88.9 291.69,88.91 291.89,88.91 292.08,88.92 292.27,88.93 292.46,88.93 292.65,88.94 292.84,88.94 293.03,88.95 293.22,88.95 293.42,88.96 293.61,88.97 293.8,88.97 293.99,88.98 294.18,88.98 294.37,88.99 294.56,88.99 294.76,89 294.95,89 295.14,89.01 295.33,89.02 295.52,89.02 295.71,89.03 295.9,89.03 296.1,89.04 296.29,89.04 296.48,89.05 296.67,89.05 296.86,89.06 297.05,89.06 297.24,89.07 297.43,89.07 297.63,89.08 297.82,89.08 298.01,89.09 298.2,89.09 298.39,89.1 298.58,89.1 298.77,89.11 298.97,89.11 299.16,89.12 299.35,89.12 299.54,89.13 299.73,89.13 299.92,89.14 300.11,89.14 300.31,89.15 300.5,89.15 300.69,89.16 300.88,89.16 301.07,89.17 301.26,89.17 301.45,89.18 301.64,89.18 301.84,89.19 302.03,89.19 302.22,89.2 302.41,89.2 302.6,89.21 302.79,89.21 302.98,89.22 303.18,89.22 303.37,89.23 303.56,89.23 303.75,89.23 303.94,89.24 304.13,89.24 304.32,89.25 304.52,89.25 304.71,89.26 304.9,89.26 305.09,89.27 305.28,89.27 305.47,89.28 305.66,89.28 305.85,89.28 306.05,89.29 306.24,89.29 306.43,89.3 306.62,89.3 306.81,89.31 307,89.31 307.19,89.32 307.39,89.32 307.58,89.32 307.77,89.33 307.96,89.33 308.15,89.34 308.34,89.34 308.53,89.34 308.72,89.35 308.92,89.35 309.11,89.36 309.3,89.36 309.49,89.37 309.68,89.37 309.87,89.37 310.06,89.38 310.26,89.38 310.45,89.39 310.64,89.39 310.83,89.39 311.02,89.4 311.21,89.4 311.4,89.41 311.6,89.41 311.79,89.41 311.98,89.42 312.17,89.42 312.36,89.43 312.55,89.43" fill="none" stroke="#f07a5a" stroke-width="4" stroke-linejoin="round" stroke-opacity="0.4"/>
<polyline points="193,91.76 193.6,91.76 194.2,91.76 194.79,91.76 195.39,91.76 195.99,91.76 196.59,91.76 197.19,91.76 197.78,91.76 198.38,91.76 198.98,91.76 199.58,91.76 200.18,91.76 200.77,91.76 201.37,91.76 201.97,91.76 202.57,91.76 203.17,91.76 203.76,91.76 204.36,91.76 204.96,91.76 205.56,91.76 206.16,91.76 206.75,91.76 207.35,91.76 207.95,91.76 208.55,91.76 209.15,91.76 209.74,91.76 210.34,91.76 210.94,91.76 211.54,91.76 212.14,91.76 212.73,91.76 213.33,91.76 213.93,91.76 214.53,91.76 215.13,91.76 215.72,91.76 216.32,91.76 216.92,91.76 217.52,91.76 218.12,91.76 218.71,91.76 219.31,91.76 219.91,91.76 220.51,91.76 221.11,91.76 221.7,91.76 222.3,91.76 222.9,91.76 223.5,91.76 224.1,91.76 224.69,91.76 225.29,91.76 225.89,91.76 226.49,91.76" fill="none" stroke="#e04a2e" stroke-width="2.2" stroke-linejoin="round"/>
<polyline points="226.49,91.76 228.16,39.82" fill="none" stroke="#ee9484" stroke-width="0.9" stroke-linejoin="round"/>
<polyline points="228.16,39.82 228.35,46.12 228.55,51.44 228.74,55.92 228.93,59.72 229.12,62.92 229.31,65.64 229.5,67.95 229.69,69.92 229.88,71.59 230.08,73.02 230.27,74.25 230.46,75.31 230.65,76.22 230.84,77.01 231.03,77.7 231.22,78.3 231.42,78.82 231.61,79.29 231.8,79.7" fill="none" stroke="#e6705a" stroke-width="1.1" stroke-linejoin="round"/>
<polyline points="231.8,79.7 231.99,80.07 232.18,80.4 232.37,80.69 232.56,80.96 232.76,81.21 232.95,81.43 233.14,81.64 233.33,81.83 233.52,82.01 233.71,82.18 233.9,82.34 234.09,82.48 234.29,82.62 234.48,82.76 234.67,82.88 234.86,83 235.05,83.12 235.24,83.23 235.43,83.33 235.63,83.44 235.82,83.53 236.01,83.63 236.2,83.72 236.39,83.81 236.58,83.9 236.77,83.98 236.96,84.06 237.16,84.14 237.35,84.22 237.54,84.29 237.73,84.36 237.92,84.43 238.11,84.5 238.3,84.57 238.5,84.63 238.69,84.7 238.88,84.76 239.07,84.82 239.26,84.88 239.45,84.93 239.64,84.99 239.84,85.04 240.03,85.1 240.22,85.15 240.41,85.2 240.6,85.25 240.79,85.3 240.98,85.35 241.17,85.39 241.37,85.44 241.56,85.48 241.75,85.52 241.94,85.57 242.13,85.61 242.32,85.65 242.51,85.69 242.71,85.73 242.9,85.76 243.09,85.8 243.28,85.84 243.47,85.87 243.66,85.91 243.85,85.94 244.05,85.98 244.24,86.01 244.43,86.04 244.62,86.07 244.81,86.1 245,86.13 245.19,86.16 245.38,86.19 245.58,86.22 245.77,86.25 245.96,86.28 246.15,86.31 246.34,86.33 246.53,86.36 246.72,86.38 246.92,86.41 247.11,86.43 247.3,86.46 247.49,86.48 247.68,86.51 247.87,86.53 248.06,86.55 248.26,86.58 248.45,86.6 248.64,86.62 248.83,86.64 249.02,86.66 249.21,86.69 249.4,86.71 249.59,86.73 249.79,86.75 249.98,86.77 250.17,86.79 250.36,86.81 250.55,86.82 250.74,86.84 250.93,86.86 251.13,86.88 251.32,86.9 251.51,86.92 251.7,86.93 251.89,86.95 252.08,86.97 252.27,86.99 252.47,87 252.66,87.02 252.85,87.04 253.04,87.05 253.23,87.07 253.42,87.09 253.61,87.1 253.8,87.12 254,87.13 254.19,87.15 254.38,87.16 254.57,87.18 254.76,87.19 254.95,87.21 255.14,87.22 255.34,87.24 255.53,87.25 255.72,87.26 255.91,87.28 256.1,87.29 256.29,87.31 256.48,87.32 256.68,87.33 256.87,87.35 257.06,87.36 257.25,87.37 257.44,87.39 257.63,87.4 257.82,87.41 258.01,87.43 258.21,87.44 258.4,87.45 258.59,87.46 258.78,87.48 258.97,87.49 259.16,87.5 259.35,87.51 259.55,87.53 259.74,87.54 259.93,87.55 260.12,87.56 260.31,87.57 260.5,87.58 260.69,87.6 260.88,87.61 261.08,87.62 261.27,87.63 261.46,87.64 261.65,87.65 261.84,87.66 262.03,87.68 262.22,87.69 262.42,87.7 262.61,87.71 262.8,87.72 262.99,87.73 263.18,87.74 263.37,87.75 263.56,87.76 263.76,87.77 263.95,87.78 264.14,87.79 264.33,87.8 264.52,87.81 264.71,87.83 264.9,87.84 265.09,87.85 265.29,87.86 265.48,87.87 265.67,87.88 265.86,87.89 266.05,87.9 266.24,87.91 266.43,87.92 266.63,87.93 266.82,87.93 267.01,87.94 267.2,87.95 267.39,87.96 267.58,87.97 267.77,87.98 267.97,87.99 268.16,88 268.35,88.01 268.54,88.02 268.73,88.03 268.92,88.04 269.11,88.05 269.3,88.06 269.5,88.07 269.69,88.08 269.88,88.08 270.07,88.09 270.26,88.1 270.45,88.11 270.64,88.12 270.84,88.13 271.03,88.14 271.22,88.15 271.41,88.16 271.6,88.16 271.79,88.17 271.98,88.18 272.18,88.19 272.37,88.2 272.56,88.21 272.75,88.22 272.94,88.22 273.13,88.23 273.32,88.24 273.51,88.25 273.71,88.26 273.9,88.27 274.09,88.27 274.28,88.28 274.47,88.29 274.66,88.3 274.85,88.31 275.05,88.31 275.24,88.32 275.43,88.33 275.62,88.34 275.81,88.35 276,88.35 276.19,88.36 276.39,88.37 276.58,88.38 276.77,88.39 276.96,88.39 277.15,88.4 277.34,88.41 277.53,88.42 277.72,88.42 277.92,88.43 278.11,88.44 278.3,88.45 278.49,88.45 278.68,88.46 278.87,88.47 279.06,88.48 279.26,88.48 279.45,88.49 279.64,88.5 279.83,88.51 280.02,88.51 280.21,88.52 280.4,88.53 280.6,88.53 280.79,88.54 280.98,88.55 281.17,88.56 281.36,88.56 281.55,88.57 281.74,88.58 281.93,88.58 282.13,88.59 282.32,88.6 282.51,88.6 282.7,88.61 282.89,88.62 283.08,88.63 283.27,88.63 283.47,88.64 283.66,88.65 283.85,88.65 284.04,88.66 284.23,88.67 284.42,88.67 284.61,88.68 284.8,88.69 285,88.69 285.19,88.7 285.38,88.71 285.57,88.71 285.76,88.72 285.95,88.73 286.14,88.73 286.34,88.74 286.53,88.74 286.72,88.75 286.91,88.76 287.1,88.76 287.29,88.77 287.48,88.78 287.68,88.78 287.87,88.79 288.06,88.8 288.25,88.8 288.44,88.81 288.63,88.81 288.82,88.82 289.01,88.83 289.21,88.83 289.4,88.84 289.59,88.84 289.78,88.85 289.97,88.86 290.16,88.86 290.35,88.87 290.55,88.87 290.74,88.88 290.93,88.89 291.12,88.89 291.31,88.9 291.5,88.9 291.69,88.91 291.89,88.91 292.08,88.92 292.27,88.93 292.46,88.93 292.65,88.94 292.84,88.94 293.03,88.95 293.22,88.95 293.42,88.96 293.61,88.97 293.8,88.97 293.99,88.98 294.18,88.98 294.37,88.99 294.56,88.99 294.76,89 294.95,89 295.14,89.01 295.33,89.02 295.52,89.02 295.71,89.03 295.9,89.03 296.1,89.04 296.29,89.04 296.48,89.05 296.67,89.05 296.86,89.06 297.05,89.06 297.24,89.07 297.43,89.07 297.63,89.08 297.82,89.08 298.01,89.09 298.2,89.09 298.39,89.1 298.58,89.1 298.77,89.11 298.97,89.11 299.16,89.12 299.35,89.12 299.54,89.13 299.73,89.13 299.92,89.14 300.11,89.14 300.31,89.15 300.5,89.15 300.69,89.16 300.88,89.16 301.07,89.17 301.26,89.17 301.45,89.18 301.64,89.18 301.84,89.19 302.03,89.19 302.22,89.2 302.41,89.2 302.6,89.21 302.79,89.21 302.98,89.22 303.18,89.22 303.37,89.23 303.56,89.23 303.75,89.23 303.94,89.24 304.13,89.24 304.32,89.25 304.52,89.25 304.71,89.26 304.9,89.26 305.09,89.27 305.28,89.27 305.47,89.28 305.66,89.28 305.85,89.28 306.05,89.29 306.24,89.29 306.43,89.3 306.62,89.3 306.81,89.31 307,89.31 307.19,89.32 307.39,89.32 307.58,89.32 307.77,89.33 307.96,89.33 308.15,89.34 308.34,89.34 308.53,89.34 308.72,89.35 308.92,89.35 309.11,89.36 309.3,89.36 309.49,89.37 309.68,89.37 309.87,89.37 310.06,89.38 310.26,89.38 310.45,89.39 310.64,89.39 310.83,89.39 311.02,89.4 311.21,89.4 311.4,89.41 311.6,89.41 311.79,89.41 311.98,89.42 312.17,89.42 312.36,89.43 312.55,89.43" fill="none" stroke="#e04a2e" stroke-width="2.2" stroke-linejoin="round"/>
<rect x="193" y="7.7" width="119.3" height="98.7" fill="none" stroke="#a3a4b2" stroke-width="0.9"/>
<polyline points="193,21.6 226,21.6 226,9 228.6,9 228.6,21.6 312.3,21.6" fill="none" stroke="#7f86b6" stroke-width="0.9"/>
<line x1="193" y1="105.9" x2="194.8" y2="105.9" stroke="#a3a4b2" stroke-width="0.7"/>
<text x="190.5" y="108.1" font-family="Liberation Sans" font-size="6.1" font-weight="bold" font-style="normal" text-anchor="end" fill="#484848">0</text>
<line x1="193" y1="91.9" x2="194.8" y2="91.9" stroke="#a3a4b2" stroke-width="0.7"/>
<text x="190.5" y="94.1" font-family="Liberation Sans" font-size="6.1" font-weight="bold" font-style="normal" text-anchor="end" fill="#484848">5</text>
<line x1="193" y1="77.9" x2="194.8" y2="77.9" stroke="#a3a4b2" stroke-width="0.7"/>
<text x="190.5" y="80.1" font-family="Liberation Sans" font-size="6.1" font-weight="bold" font-style="normal" text-anchor="end" fill="#484848">10</text>
<line x1="193" y1="63.9" x2="194.8" y2="63.9" stroke="#a3a4b2" stroke-width="0.7"/>
<text x="190.5" y="66.1" font-family="Liberation Sans" font-size="6.1" font-weight="bold" font-style="normal" text-anchor="end" fill="#484848">15</text>
<line x1="193" y1="49.9" x2="194.8" y2="49.9" stroke="#a3a4b2" stroke-width="0.7"/>
<text x="190.5" y="52.1" font-family="Liberation Sans" font-size="6.1" font-weight="bold" font-style="normal" text-anchor="end" fill="#484848">20</text>
<line x1="193" y1="35.9" x2="194.8" y2="35.9" stroke="#a3a4b2" stroke-width="0.7"/>
<text x="190.5" y="38.1" font-family="Liberation Sans" font-size="6.1" font-weight="bold" font-style="normal" text-anchor="end" fill="#484848">25</text>
<line x1="193" y1="21.9" x2="194.8" y2="21.9" stroke="#a3a4b2" stroke-width="0.7"/>
<text x="190.5" y="24.1" font-family="Liberation Sans" font-size="6.1" font-weight="bold" font-style="normal" text-anchor="end" fill="#484848">30</text>
<line x1="193" y1="106.4" x2="193" y2="104.6" stroke="#a3a4b2" stroke-width="0.7"/>
<text x="193" y="112.8" font-family="Liberation Sans" font-size="6.1" font-weight="bold" font-style="normal" text-anchor="middle" fill="#484848">0</text>
<line x1="204.96" y1="106.4" x2="204.96" y2="105.3" stroke="#a3a4b2" stroke-width="0.7"/>
<line x1="216.92" y1="106.4" x2="216.92" y2="104.6" stroke="#a3a4b2" stroke-width="0.7"/>
<text x="216.92" y="112.8" font-family="Liberation Sans" font-size="6.1" font-weight="bold" font-style="normal" text-anchor="middle" fill="#484848">10</text>
<line x1="228.88" y1="106.4" x2="228.88" y2="105.3" stroke="#a3a4b2" stroke-width="0.7"/>
<line x1="240.84" y1="106.4" x2="240.84" y2="104.6" stroke="#a3a4b2" stroke-width="0.7"/>
<text x="240.84" y="112.8" font-family="Liberation Sans" font-size="6.1" font-weight="bold" font-style="normal" text-anchor="middle" fill="#484848">20</text>
<line x1="252.8" y1="106.4" x2="252.8" y2="105.3" stroke="#a3a4b2" stroke-width="0.7"/>
<line x1="264.76" y1="106.4" x2="264.76" y2="104.6" stroke="#a3a4b2" stroke-width="0.7"/>
<text x="264.76" y="112.8" font-family="Liberation Sans" font-size="6.1" font-weight="bold" font-style="normal" text-anchor="middle" fill="#484848">30</text>
<line x1="276.72" y1="106.4" x2="276.72" y2="105.3" stroke="#a3a4b2" stroke-width="0.7"/>
<line x1="288.68" y1="106.4" x2="288.68" y2="104.6" stroke="#a3a4b2" stroke-width="0.7"/>
<text x="288.68" y="112.8" font-family="Liberation Sans" font-size="6.1" font-weight="bold" font-style="normal" text-anchor="middle" fill="#484848">40</text>
<line x1="300.64" y1="106.4" x2="300.64" y2="105.3" stroke="#a3a4b2" stroke-width="0.7"/>
<line x1="312.6" y1="106.4" x2="312.6" y2="104.6" stroke="#a3a4b2" stroke-width="0.7"/>
<text x="312.6" y="112.8" font-family="Liberation Sans" font-size="6.1" font-weight="bold" font-style="normal" text-anchor="middle" fill="#484848">50</text>
<line x1="312.3" y1="21.6" x2="310.7" y2="21.6" stroke="#a3a4b2" stroke-width="0.7"/>
<line x1="312.3" y1="14.7" x2="310.7" y2="14.7" stroke="#a3a4b2" stroke-width="0.7"/>
<line x1="312.3" y1="7.8" x2="310.7" y2="7.8" stroke="#a3a4b2" stroke-width="0.7"/>
<text x="314.5" y="9.8" font-family="Liberation Sans" font-size="5.6" font-weight="bold" font-style="normal" text-anchor="start" fill="#666">5</text>
<text x="314.5" y="23.7" font-family="Liberation Sans" font-size="5.6" font-weight="bold" font-style="normal" text-anchor="start" fill="#666">0</text>
<text x="253.15" y="119.7" font-family="Liberation Sans" font-size="6.3" font-weight="bold" font-style="normal" text-anchor="middle" fill="#2a2a2a" textLength="25.9" lengthAdjust="spacingAndGlyphs">Time (ms)</text>
<text x="180.2" y="57.05" font-family="Liberation Sans" font-size="7" font-weight="bold" font-style="normal" text-anchor="middle" fill="#2a2a2a" transform="rotate(-90 180.2 57.05)" textLength="70.9" lengthAdjust="spacingAndGlyphs">Post-synaptic current (nA)</text>
<text x="319.3" y="57.25" font-family="Liberation Sans" font-size="7" font-weight="bold" font-style="normal" text-anchor="middle" fill="#2a2a2a" transform="rotate(90 319.3 57.25)" textLength="69.9" lengthAdjust="spacingAndGlyphs">Pre-synaptic potential (V)</text>
<line x1="208" y1="66.1" x2="218.2" y2="66.1" stroke="#8e8e8e" stroke-width="1.3"/>
<path d="M205 66.1 L209 64.3 L209 67.9 Z" fill="#111"/>
<line x1="231.3" y1="15.8" x2="242.5" y2="15.8" stroke="#c4c6c4" stroke-width="1.6"/>
<path d="M249.2 15.8 L245 13.8 L245 17.8 Z" fill="#111"/>
<text x="332.6" y="9" font-family="Liberation Serif" font-size="10.9" font-weight="bold" font-style="normal" text-anchor="start" fill="#000" textLength="13.9" lengthAdjust="spacingAndGlyphs">(c)</text>
<rect x="357.9" y="7.5" width="137.7" height="93.3" fill="none" stroke="#333" stroke-width="1"/>
<polyline points="357.9,22.85 408,22.85 410.3,10.6 411.7,10.6 414.5,21.3 417.3,10.6 419.7,10.6 422,22.85 495.6,22.85" fill="none" stroke="#333" stroke-width="1.2" stroke-linejoin="round"/>
<line x1="357.9" y1="100.8" x2="359.9" y2="100.8" stroke="#333" stroke-width="0.8"/>
<text x="355.7" y="103.4" font-family="Liberation Serif" font-size="7.4" font-weight="bold" font-style="normal" text-anchor="end" fill="#222">0</text>
<line x1="357.9" y1="69.7" x2="359.9" y2="69.7" stroke="#333" stroke-width="0.8"/>
<text x="355.7" y="72.3" font-family="Liberation Serif" font-size="7.4" font-weight="bold" font-style="normal" text-anchor="end" fill="#222">2</text>
<line x1="357.9" y1="38.6" x2="359.9" y2="38.6" stroke="#333" stroke-width="0.8"/>
<text x="355.7" y="41.2" font-family="Liberation Serif" font-size="7.4" font-weight="bold" font-style="normal" text-anchor="end" fill="#222">4</text>
<line x1="357.9" y1="7.5" x2="359.9" y2="7.5" stroke="#333" stroke-width="0.8"/>
<text x="355.7" y="10.1" font-family="Liberation Serif" font-size="7.4" font-weight="bold" font-style="normal" text-anchor="end" fill="#222">6</text>
<line x1="357.9" y1="85.25" x2="359.1" y2="85.25" stroke="#333" stroke-width="0.7"/>
<line x1="357.9" y1="54.15" x2="359.1" y2="54.15" stroke="#333" stroke-width="0.7"/>
<line x1="357.9" y1="23.05" x2="359.1" y2="23.05" stroke="#333" stroke-width="0.7"/>
<line x1="357.9" y1="100.8" x2="357.9" y2="98.8" stroke="#333" stroke-width="0.8"/>
<line x1="357.9" y1="7.5" x2="357.9" y2="9.5" stroke="#333" stroke-width="0.8"/>
<text x="357.9" y="108.9" font-family="Liberation Serif" font-size="7.4" font-weight="bold" font-style="normal" text-anchor="middle" fill="#222">4</text>
<line x1="380.8" y1="100.8" x2="380.8" y2="99.6" stroke="#333" stroke-width="0.8"/>
<line x1="380.8" y1="7.5" x2="380.8" y2="8.7" stroke="#333" stroke-width="0.8"/>
<line x1="403.7" y1="100.8" x2="403.7" y2="98.8" stroke="#333" stroke-width="0.8"/>
<line x1="403.7" y1="7.5" x2="403.7" y2="9.5" stroke="#333" stroke-width="0.8"/>
<text x="403.7" y="108.9" font-family="Liberation Serif" font-size="7.4" font-weight="bold" font-style="normal" text-anchor="middle" fill="#222">5</text>
<line x1="426.6" y1="100.8" x2="426.6" y2="99.6" stroke="#333" stroke-width="0.8"/>
<line x1="426.6" y1="7.5" x2="426.6" y2="8.7" stroke="#333" stroke-width="0.8"/>
<line x1="449.5" y1="100.8" x2="449.5" y2="98.8" stroke="#333" stroke-width="0.8"/>
<line x1="449.5" y1="7.5" x2="449.5" y2="9.5" stroke="#333" stroke-width="0.8"/>
<text x="449.5" y="108.9" font-family="Liberation Serif" font-size="7.4" font-weight="bold" font-style="normal" text-anchor="middle" fill="#222">6</text>
<line x1="472.4" y1="100.8" x2="472.4" y2="99.6" stroke="#333" stroke-width="0.8"/>
<line x1="472.4" y1="7.5" x2="472.4" y2="8.7" stroke="#333" stroke-width="0.8"/>
<line x1="495.3" y1="100.8" x2="495.3" y2="98.8" stroke="#333" stroke-width="0.8"/>
<line x1="495.3" y1="7.5" x2="495.3" y2="9.5" stroke="#333" stroke-width="0.8"/>
<text x="495.3" y="108.9" font-family="Liberation Serif" font-size="7.4" font-weight="bold" font-style="normal" text-anchor="middle" fill="#222">7</text>
<text x="497.2" y="10.2" font-family="Liberation Serif" font-size="7.8" font-weight="bold" font-style="normal" text-anchor="start" fill="#222" textLength="8.6" lengthAdjust="spacingAndGlyphs">0.5</text>
<text x="497.2" y="25.55" font-family="Liberation Serif" font-size="7.8" font-weight="bold" font-style="normal" text-anchor="start" fill="#222" textLength="8.6" lengthAdjust="spacingAndGlyphs">0.0</text>
<text x="428.2" y="117.5" font-family="Liberation Serif" font-size="7.8" font-weight="bold" font-style="normal" text-anchor="middle" fill="#222" textLength="27.2" lengthAdjust="spacingAndGlyphs">Time (s)</text>
<text x="344" y="45.8" font-family="Liberation Serif" font-size="8.4" font-weight="bold" font-style="normal" text-anchor="middle" fill="#222" transform="rotate(-90 344 45.8)" textLength="39.8" lengthAdjust="spacingAndGlyphs">EPSC (nA)</text>
<text x="515.4" y="15.6" font-family="Liberation Serif" font-size="8.2" font-weight="bold" text-anchor="middle" fill="#222" transform="rotate(-90 515.4 15.6)">V<tspan font-size="5.6" dy="1.8">GS</tspan><tspan dy="-1.8"> (V)</tspan></text>
<text x="372.1" y="39.8" font-family="Liberation Serif" font-size="7.6" font-weight="bold" font-style="normal" text-anchor="start" fill="#111" textLength="32.1" lengthAdjust="spacingAndGlyphs">&#916;t=150ms</text>
<text x="391.8" y="80.4" font-family="Liberation Serif" font-size="8" font-weight="bold" font-style="normal" text-anchor="middle" fill="#111" textLength="8.4" lengthAdjust="spacingAndGlyphs">A1</text>
<text x="438.6" y="68.3" font-family="Liberation Serif" font-size="8" font-weight="bold" font-style="normal" text-anchor="middle" fill="#111" textLength="9.2" lengthAdjust="spacingAndGlyphs">A2</text>
<path d="M358 93.4 L408.5 93.4 C409.7 93.4 410.1 91.5 410.4 87.5 L411.3 66.5 C411.6 64 412 62.9 412.5 62.9 C413.4 62.9 414.3 70.5 415.1 70.8 C416.4 70.9 418 42 419.4 39.6 C420.9 40.6 421.6 65 424 76.2 C426 83.6 430 87.6 436 89.5 C446 91.7 465 92.7 495.6 93.1" fill="none" stroke="#2a2a2a" stroke-width="1.2" stroke-linejoin="round"/>
<line x1="398.4" y1="62.4" x2="412" y2="62.4" stroke="#a0a0a0" stroke-width="0.55" stroke-dasharray="1 1"/>
<line x1="398.4" y1="62.4" x2="398.4" y2="93" stroke="#a0a0a0" stroke-width="0.55" stroke-dasharray="1 1"/>
<line x1="419.5" y1="39.7" x2="437.2" y2="39.7" stroke="#a0a0a0" stroke-width="0.55" stroke-dasharray="1 1"/>
<line x1="430.5" y1="39.7" x2="430.5" y2="93.3" stroke="#a0a0a0" stroke-width="0.55" stroke-dasharray="1 1"/>
<line x1="411" y1="93.6" x2="436" y2="93.6" stroke="#a0a0a0" stroke-width="0.55" stroke-dasharray="1 1"/>
<line x1="371" y1="55.3" x2="390.1" y2="55.3" stroke="#2a2a2a" stroke-width="0.95"/>
<path d="M367.8 55.3 L372.6 53.9 L372.6 56.7 Z" fill="#111"/>
<line x1="440.2" y1="16.9" x2="461.5" y2="16.9" stroke="#777" stroke-width="0.8"/>
<path d="M463.2 16.9 L460.6 15.9 L460.6 17.9 Z" fill="#555"/>
<text x="2.2" y="120.8" font-family="Liberation Serif" font-size="11.2" font-weight="bold" font-style="normal" text-anchor="start" fill="#000" textLength="15" lengthAdjust="spacingAndGlyphs">(d)</text>
<path d="M25.3 131 H162.9 V233.4 H25.3 Z" fill="none" stroke="#333" stroke-width="1.05"/>
<line x1="25.3" y1="131.2" x2="162.9" y2="131.2" stroke="#333" stroke-width="0.35"/>
<line x1="25.3" y1="233.4" x2="27.3" y2="233.4" stroke="#333" stroke-width="0.8"/>
<text x="23.3" y="235.8" font-family="Liberation Serif" font-size="7.3" font-weight="normal" font-style="normal" text-anchor="end" fill="#333" textLength="11.4" lengthAdjust="spacingAndGlyphs">100</text>
<line x1="25.3" y1="182.05" x2="27.3" y2="182.05" stroke="#333" stroke-width="0.8"/>
<text x="23.3" y="184.45" font-family="Liberation Serif" font-size="7.3" font-weight="normal" font-style="normal" text-anchor="end" fill="#333" textLength="11.4" lengthAdjust="spacingAndGlyphs">150</text>
<line x1="25.3" y1="130.7" x2="27.3" y2="130.7" stroke="#333" stroke-width="0.8"/>
<text x="23.3" y="133.1" font-family="Liberation Serif" font-size="7.3" font-weight="normal" font-style="normal" text-anchor="end" fill="#333" textLength="11.4" lengthAdjust="spacingAndGlyphs">200</text>
<line x1="25.3" y1="207.73" x2="26.5" y2="207.73" stroke="#333" stroke-width="0.7"/>
<line x1="25.3" y1="156.38" x2="26.5" y2="156.38" stroke="#333" stroke-width="0.7"/>
<line x1="25.3" y1="233.4" x2="25.3" y2="231.4" stroke="#333" stroke-width="0.8"/>
<text x="25.9" y="241.9" font-family="Liberation Serif" font-size="7.3" font-weight="normal" font-style="normal" text-anchor="middle" fill="#333">0</text>
<line x1="38.45" y1="233.4" x2="38.45" y2="232.2" stroke="#333" stroke-width="0.8"/>
<line x1="51.6" y1="233.4" x2="51.6" y2="231.4" stroke="#333" stroke-width="0.8"/>
<text x="52.2" y="241.9" font-family="Liberation Serif" font-size="7.3" font-weight="normal" font-style="normal" text-anchor="middle" fill="#333">500</text>
<line x1="64.75" y1="233.4" x2="64.75" y2="232.2" stroke="#333" stroke-width="0.8"/>
<line x1="77.9" y1="233.4" x2="77.9" y2="231.4" stroke="#333" stroke-width="0.8"/>
<text x="78.5" y="241.9" font-family="Liberation Serif" font-size="7.3" font-weight="normal" font-style="normal" text-anchor="middle" fill="#333">1000</text>
<line x1="91.05" y1="233.4" x2="91.05" y2="232.2" stroke="#333" stroke-width="0.8"/>
<line x1="104.2" y1="233.4" x2="104.2" y2="231.4" stroke="#333" stroke-width="0.8"/>
<text x="104.8" y="241.9" font-family="Liberation Serif" font-size="7.3" font-weight="normal" font-style="normal" text-anchor="middle" fill="#333">1500</text>
<line x1="117.35" y1="233.4" x2="117.35" y2="232.2" stroke="#333" stroke-width="0.8"/>
<line x1="130.5" y1="233.4" x2="130.5" y2="231.4" stroke="#333" stroke-width="0.8"/>
<text x="131.1" y="241.9" font-family="Liberation Serif" font-size="7.3" font-weight="normal" font-style="normal" text-anchor="middle" fill="#333">2000</text>
<line x1="143.65" y1="233.4" x2="143.65" y2="232.2" stroke="#333" stroke-width="0.8"/>
<line x1="156.8" y1="233.4" x2="156.8" y2="231.4" stroke="#333" stroke-width="0.8"/>
<text x="157.4" y="241.9" font-family="Liberation Serif" font-size="7.3" font-weight="normal" font-style="normal" text-anchor="middle" fill="#333">2500</text>
<text x="94.55" y="253.1" font-family="Liberation Serif" font-size="8.9" font-weight="normal" font-style="normal" text-anchor="middle" fill="#222" textLength="24.3" lengthAdjust="spacingAndGlyphs">&#916;t(ms)</text>
<text x="10" y="182.25" font-family="Liberation Serif" font-size="8.6" font-weight="normal" font-style="normal" text-anchor="middle" fill="#222" transform="rotate(-90 10 182.25)" textLength="58.7" lengthAdjust="spacingAndGlyphs">PPF (A2/A1)(%)</text>
<path d="M25.5 131.2 C25.67 132.42 26.05 135.53 26.5 138.5 C26.95 141.47 27.57 145.42 28.2 149 C28.83 152.58 29.42 156.08 30.3 160 C31.18 163.92 32.58 168.2 33.5 172.5 C34.42 176.8 35.17 182.5 35.8 185.8 C36.43 189.1 36.52 189.88 37.3 192.3 C38.08 194.72 39.48 197.92 40.5 200.3 C41.52 202.68 42.32 204.65 43.4 206.6 C44.48 208.55 45.57 210.3 47 212 C48.43 213.7 50.17 215.32 52 216.8 C53.83 218.28 55.79 219.73 58 220.9 C60.21 222.07 61.7 222.78 65.25 223.8 C68.8 224.82 74.84 226.22 79.3 227 C83.76 227.78 87.73 228.07 92 228.5 C96.27 228.93 98.4 229.17 104.9 229.6 C111.4 230.03 122.32 230.72 131 231.1 C139.68 231.48 151.78 231.75 157 231.9 C162.22 232.05 161.42 231.98 162.3 232" fill="none" stroke="#222" stroke-width="1.05"/>
<rect x="24.8" y="136" width="3.2" height="3.2" fill="#111"/>
<rect x="31.9" y="168" width="3.2" height="3.2" fill="#111"/>
<rect x="34.2" y="184.6" width="3.2" height="3.2" fill="#111"/>
<rect x="37.1" y="198.5" width="3.2" height="3.2" fill="#111"/>
<rect x="42.2" y="206" width="3.2" height="3.2" fill="#111"/>
<rect x="50.4" y="215.1" width="3.2" height="3.2" fill="#111"/>
<rect x="63.65" y="221.65" width="3.2" height="3.2" fill="#111"/>
<rect x="76.9" y="224.3" width="3.2" height="3.2" fill="#111"/>
<rect x="103.2" y="227.6" width="3.2" height="3.2" fill="#111"/>
<rect x="129.9" y="229.7" width="3.2" height="3.2" fill="#111"/>
<rect x="156" y="230.6" width="3.2" height="3.2" fill="#111"/>
<text x="159.3" y="120.8" font-family="Liberation Serif" font-size="12" font-weight="bold" font-style="normal" text-anchor="start" fill="#000" textLength="13.7" lengthAdjust="spacingAndGlyphs">(e)</text>
<polyline points="206.4,220.4 209.3,220.2 209.75,219.7 209.85,208 210.07,212.16 210.29,214.46 210.51,215.82 210.73,216.68 210.95,217.28 211.17,217.71 211.39,218.05 211.61,218.32 211.83,218.54 212.05,218.73 212.27,218.88 212.49,219.01 212.71,219.12 212.93,219.21 213.15,219.28 213.37,219.35 213.59,219.4 213.81,219.45 214.03,219.49 214.25,219.52 214.45,219.7 214.55,208 214.77,212.16 214.99,214.46 215.21,215.82 215.43,216.68 215.65,217.28 215.87,217.71 216.09,218.05 216.31,218.32 216.53,218.54 216.75,218.73 216.97,218.88 217.19,219.01 217.41,219.12 217.63,219.21 217.85,219.28 218.07,219.35 218.29,219.4 218.51,219.45 218.73,219.49 218.95,219.52 219.15,219.7 219.25,208 219.47,212.16 219.69,214.46 219.91,215.82 220.13,216.68 220.35,217.28 220.57,217.71 220.79,218.05 221.01,218.32 221.23,218.54 221.45,218.73 221.67,218.88 221.89,219.01 222.11,219.12 222.33,219.21 222.55,219.28 222.77,219.35 222.99,219.4 223.21,219.45 223.43,219.49 223.65,219.52 223.85,219.7 223.95,208 224.17,212.16 224.39,214.46 224.61,215.82 224.83,216.68 225.05,217.28 225.27,217.71 225.49,218.05 225.71,218.32 225.93,218.54 226.15,218.73 226.37,218.88 226.59,219.01 226.81,219.12 227.03,219.21 227.25,219.28 227.47,219.35 227.69,219.4 227.91,219.45 228.13,219.49 228.35,219.52 228.55,219.7 228.65,208 228.87,212.16 229.09,214.46 229.31,215.82 229.53,216.68 229.75,217.28 229.97,217.71 230.19,218.05 230.41,218.32 230.63,218.54 230.85,218.73 231.07,218.88 231.29,219.01 231.51,219.12 231.73,219.21 231.95,219.28 232.17,219.35 232.39,219.4 232.61,219.45 232.83,219.49 233.05,219.52 233.25,219.7 233.35,208 233.57,212.16 233.79,214.46 234.01,215.82 234.23,216.68 234.45,217.28 234.67,217.71 234.89,218.05 235.11,218.32 235.33,218.54 235.55,218.73 235.77,218.88 235.99,219.01 236.21,219.12 236.43,219.21 236.65,219.28 236.87,219.35 237.09,219.4 237.31,219.45 237.53,219.49 237.75,219.52 237.95,219.7 238.05,208 238.27,212.16 238.49,214.46 238.71,215.82 238.93,216.68 239.15,217.28 239.37,217.71 239.59,218.05 239.81,218.32 240.03,218.54 240.25,218.73 240.47,218.88 240.69,219.01 240.91,219.12 241.13,219.21 241.35,219.28 241.57,219.35 241.79,219.4 242.01,219.45 242.23,219.49 242.45,219.52 242.65,219.7 242.75,208 242.97,212.16 243.19,214.46 243.41,215.82 243.63,216.68 243.85,217.28 244.07,217.71 244.29,218.05 244.51,218.32 244.73,218.54 244.95,218.73 245.17,218.88 245.39,219.01 245.61,219.12 245.83,219.21 246.05,219.28 246.27,219.35 246.49,219.4 246.71,219.45 246.93,219.49 247.15,219.52 247.35,219.7 247.45,208 247.67,212.16 247.89,214.46 248.11,215.82 248.33,216.68 248.55,217.28 248.77,217.71 248.99,218.05 249.21,218.32 249.43,218.54 249.65,218.73 249.87,218.88 250.09,219.01 250.31,219.12 250.53,219.21 250.75,219.28 250.97,219.35 251.19,219.4 251.41,219.45 251.63,219.49 251.85,219.52 252.05,219.7 252.15,208 252.37,212.16 252.59,214.46 252.81,215.82 253.03,216.68 253.25,217.28 253.47,217.71 253.69,218.05 253.91,218.32 254.13,218.54 254.35,218.73 254.57,218.88 254.79,219.01 255.01,219.12 255.23,219.21 255.45,219.28 255.67,219.35 255.89,219.4 256.11,219.45 256.33,219.49 256.55,219.52 257.65,219.8 259.15,220.1 259.8,220.4" fill="none" stroke="#1a1a1a" stroke-width="0.9" stroke-linejoin="round"/>
<path d="M259.6 220.6 L260.1 212 C260.3 208.5 260.7 206.5 261.5 205.4 C263.5 203.3 266 201 268.3 198.3 L269.3 198.5 L269.4 207.4 C266.5 208.3 263.5 210.3 261.8 212.8 C260.9 214.5 260.4 217 260.2 220.6 Z" fill="#ee1c24"/>
<path d="M269.3 198.8 C270 206 271.5 213 274.5 217.6 C275 218.3 275.5 218.4 276 218.4" fill="none" stroke="#ee1c24" stroke-width="1"/>
<line x1="256" y1="220.6" x2="260" y2="220.6" stroke="#ee1c24" stroke-width="0.8"/>
<path d="M275.5 218.4 C276.6 214 277.6 206 278.6 198 C279.2 193 279.8 189 280.5 185.9 L280.9 199 C280.1 203 279.1 208 278.3 212 C277.7 215 277.2 217 276.9 218.5 Z" fill="#1f33d6"/>
<path d="M280.5 186.1 C281.1 194 281.9 203 283.3 209.5 C284.4 214.5 286.1 217.5 288.3 218.5" fill="none" stroke="#1f33d6" stroke-width="1.05"/>
<polyline points="289.8,218.6 291,218.6 292.4,167.5 292.95,195.6 293.43,200.72 293.91,204.7 294.38,207.79 294.86,210.2 295.34,212.07 295.82,213.52 296.3,214.65 296.78,215.53 297.25,216.21 297.73,216.74 298.21,217.16 298.69,217.48 299.17,217.73 299.64,217.92 300.12,218.07 300.6,218.19" fill="none" stroke="#78e06a" stroke-width="0.95" stroke-linejoin="round"/>
<path d="M291.3 208.38 L292.4 167.5 L292.7 195.6 Z" fill="#78e06a" fill-opacity="0.6"/>
<polyline points="301,218.6 302.2,218.6 303.5,159.8 304.05,192.14 304.62,199.02 305.19,204.11 305.77,207.87 306.34,210.66 306.91,212.73 307.48,214.25 308.05,215.38 308.62,216.22 309.2,216.84 309.77,217.3 310.34,217.63 310.91,217.89 311.48,218.07 312.06,218.21 312.63,218.31 313.2,218.39" fill="none" stroke="#e14fe0" stroke-width="0.95" stroke-linejoin="round"/>
<path d="M302.5 206.84 L303.5 159.8 L303.8 192.14 Z" fill="#e14fe0" fill-opacity="0.6"/>
<polyline points="312.6,218.6 313.8,218.6 314.6,149.8 315.15,187.64 315.85,197.22 316.56,203.83 317.26,208.4 317.96,211.55 318.67,213.73 319.37,215.24 320.07,216.28 320.78,217 321.48,217.49 322.18,217.84 322.88,218.07 323.59,218.24 324.29,218.35 324.99,218.43 325.7,218.48 326.4,218.52" fill="none" stroke="#3a8f45" stroke-width="0.95" stroke-linejoin="round"/>
<path d="M314.1 204.84 L314.6 149.8 L314.9 187.64 Z" fill="#3a8f45" fill-opacity="0.6"/>
<polyline points="325.8,218.6 327,218.6 327.8,136.3 328.35,181.56 329.19,194.81 330.03,203.31 330.87,208.78 331.71,212.29 332.55,214.55 333.39,216 334.23,216.93 335.08,217.52 335.92,217.91 336.76,218.16 337.6,218.31 338.44,218.42 339.28,218.48 340.12,218.52 340.96,218.55 341.8,218.57" fill="none" stroke="#7b2530" stroke-width="0.95" stroke-linejoin="round"/>
<path d="M327.3 202.14 L327.8 136.3 L328.1 181.56 Z" fill="#7b2530" fill-opacity="0.6"/>
<rect x="206.4" y="127" width="135.4" height="100.4" fill="none" stroke="#222" stroke-width="1.15"/>
<line x1="206.4" y1="221.4" x2="208.4" y2="221.4" stroke="#222" stroke-width="0.8"/>
<text x="202.8" y="224.8" font-family="Liberation Sans" font-size="9.7" font-weight="normal" font-style="normal" text-anchor="end" fill="#222" stroke="#222" stroke-width="0.22">300</text>
<line x1="206.4" y1="190.1" x2="208.4" y2="190.1" stroke="#222" stroke-width="0.8"/>
<text x="202.8" y="193.5" font-family="Liberation Sans" font-size="9.7" font-weight="normal" font-style="normal" text-anchor="end" fill="#222" stroke="#222" stroke-width="0.22">400</text>
<line x1="206.4" y1="158.8" x2="208.4" y2="158.8" stroke="#222" stroke-width="0.8"/>
<text x="202.8" y="162.2" font-family="Liberation Sans" font-size="9.7" font-weight="normal" font-style="normal" text-anchor="end" fill="#222" stroke="#222" stroke-width="0.22">500</text>
<line x1="206.4" y1="127" x2="208.4" y2="127" stroke="#222" stroke-width="0.8"/>
<text x="202.8" y="130.4" font-family="Liberation Sans" font-size="9.7" font-weight="normal" font-style="normal" text-anchor="end" fill="#222" stroke="#222" stroke-width="0.22">600</text>
<line x1="206.4" y1="227.4" x2="206.4" y2="225.6" stroke="#222" stroke-width="0.8"/>
<text x="206.1" y="239" font-family="Liberation Sans" font-size="9.7" font-weight="normal" font-style="normal" text-anchor="middle" fill="#222" stroke="#222" stroke-width="0.22">0</text>
<line x1="221.65" y1="227.4" x2="221.65" y2="225.6" stroke="#222" stroke-width="0.8"/>
<line x1="236.9" y1="227.4" x2="236.9" y2="225.6" stroke="#222" stroke-width="0.8"/>
<text x="236.6" y="239" font-family="Liberation Sans" font-size="9.7" font-weight="normal" font-style="normal" text-anchor="middle" fill="#222" stroke="#222" stroke-width="0.22">5</text>
<line x1="252.15" y1="227.4" x2="252.15" y2="225.6" stroke="#222" stroke-width="0.8"/>
<line x1="267.4" y1="227.4" x2="267.4" y2="225.6" stroke="#222" stroke-width="0.8"/>
<text x="267.1" y="239" font-family="Liberation Sans" font-size="9.7" font-weight="normal" font-style="normal" text-anchor="middle" fill="#222" stroke="#222" stroke-width="0.22">10</text>
<line x1="282.65" y1="227.4" x2="282.65" y2="225.6" stroke="#222" stroke-width="0.8"/>
<line x1="297.9" y1="227.4" x2="297.9" y2="225.6" stroke="#222" stroke-width="0.8"/>
<text x="297.6" y="239" font-family="Liberation Sans" font-size="9.7" font-weight="normal" font-style="normal" text-anchor="middle" fill="#222" stroke="#222" stroke-width="0.22">15</text>
<line x1="313.15" y1="227.4" x2="313.15" y2="225.6" stroke="#222" stroke-width="0.8"/>
<line x1="328.4" y1="227.4" x2="328.4" y2="225.6" stroke="#222" stroke-width="0.8"/>
<text x="328.1" y="239" font-family="Liberation Sans" font-size="9.7" font-weight="normal" font-style="normal" text-anchor="middle" fill="#222" stroke="#222" stroke-width="0.22">20</text>
<text x="268.8" y="253" font-family="Liberation Sans" font-size="10.2" font-weight="normal" font-style="normal" text-anchor="middle" fill="#222" textLength="37" lengthAdjust="spacingAndGlyphs" stroke="#222" stroke-width="0.22">Time (s)</text>
<text x="180.1" y="178.4" font-family="Liberation Sans" font-size="9.8" font-weight="normal" font-style="normal" text-anchor="middle" fill="#222" transform="rotate(-90 180.1 178.4)" textLength="46.9" lengthAdjust="spacingAndGlyphs" stroke="#222" stroke-width="0.22">EPSC (nA)</text>
<line x1="209" y1="134.7" x2="231.6" y2="134.7" stroke="#1a1a1a" stroke-width="1.3"/>
<text x="233.3" y="138.2" font-family="Liberation Sans" font-size="9.9" font-weight="normal" font-style="normal" text-anchor="start" fill="#1a1a1a" stroke="#1a1a1a" stroke-width="0.22">1Hz</text>
<line x1="209" y1="145.73" x2="231.6" y2="145.73" stroke="#ee1c24" stroke-width="1.3"/>
<text x="233.3" y="149.23" font-family="Liberation Sans" font-size="9.9" font-weight="normal" font-style="normal" text-anchor="start" fill="#ee1c24" stroke="#ee1c24" stroke-width="0.22">5Hz</text>
<line x1="209" y1="156.76" x2="231.6" y2="156.76" stroke="#1f33d6" stroke-width="1.3"/>
<text x="233.3" y="160.26" font-family="Liberation Sans" font-size="9.9" font-weight="normal" font-style="normal" text-anchor="start" fill="#1f33d6" stroke="#1f33d6" stroke-width="0.22">10Hz</text>
<line x1="209" y1="167.79" x2="231.6" y2="167.79" stroke="#78e06a" stroke-width="1.3"/>
<text x="233.3" y="171.29" font-family="Liberation Sans" font-size="9.9" font-weight="normal" font-style="normal" text-anchor="start" fill="#78e06a" stroke="#78e06a" stroke-width="0.22">20Hz</text>
<line x1="209" y1="178.82" x2="231.6" y2="178.82" stroke="#e14fe0" stroke-width="1.3"/>
<text x="233.3" y="182.32" font-family="Liberation Sans" font-size="9.9" font-weight="normal" font-style="normal" text-anchor="start" fill="#e14fe0" stroke="#e14fe0" stroke-width="0.22">25Hz</text>
<line x1="209" y1="189.85" x2="231.6" y2="189.85" stroke="#3f9448" stroke-width="1.3"/>
<text x="233.3" y="193.35" font-family="Liberation Sans" font-size="9.9" font-weight="normal" font-style="normal" text-anchor="start" fill="#3f9448" stroke="#3f9448" stroke-width="0.22">33Hz</text>
<line x1="209" y1="200.88" x2="231.6" y2="200.88" stroke="#7b2530" stroke-width="1.3"/>
<text x="233.3" y="204.38" font-family="Liberation Sans" font-size="9.9" font-weight="normal" font-style="normal" text-anchor="start" fill="#7b2530" stroke="#7b2530" stroke-width="0.22">50Hz</text>
<text x="353.5" y="121.3" font-family="Liberation Serif" font-size="12.2" font-weight="bold" font-style="normal" text-anchor="start" fill="#000" textLength="12.3" lengthAdjust="spacingAndGlyphs">(f)</text>
<rect x="383.8" y="126.9" width="134.9" height="100.6" fill="none" stroke="#222" stroke-width="1.15"/>
<line x1="383.8" y1="227.5" x2="385.8" y2="227.5" stroke="#222" stroke-width="0.8"/>
<text x="381.2" y="231.1" font-family="Liberation Sans" font-size="10" font-weight="normal" font-style="normal" text-anchor="end" fill="#222" stroke="#222" stroke-width="0.22">0</text>
<line x1="383.8" y1="214.93" x2="385" y2="214.93" stroke="#222" stroke-width="0.8"/>
<line x1="383.8" y1="202.36" x2="385.8" y2="202.36" stroke="#222" stroke-width="0.8"/>
<text x="381.2" y="205.96" font-family="Liberation Sans" font-size="10" font-weight="normal" font-style="normal" text-anchor="end" fill="#222" stroke="#222" stroke-width="0.22">2</text>
<line x1="383.8" y1="189.79" x2="385" y2="189.79" stroke="#222" stroke-width="0.8"/>
<line x1="383.8" y1="177.22" x2="385.8" y2="177.22" stroke="#222" stroke-width="0.8"/>
<text x="381.2" y="180.82" font-family="Liberation Sans" font-size="10" font-weight="normal" font-style="normal" text-anchor="end" fill="#222" stroke="#222" stroke-width="0.22">4</text>
<line x1="383.8" y1="164.65" x2="385" y2="164.65" stroke="#222" stroke-width="0.8"/>
<line x1="383.8" y1="152.08" x2="385.8" y2="152.08" stroke="#222" stroke-width="0.8"/>
<text x="381.2" y="155.68" font-family="Liberation Sans" font-size="10" font-weight="normal" font-style="normal" text-anchor="end" fill="#222" stroke="#222" stroke-width="0.22">6</text>
<line x1="383.8" y1="139.51" x2="385" y2="139.51" stroke="#222" stroke-width="0.8"/>
<line x1="383.8" y1="126.94" x2="385.8" y2="126.94" stroke="#222" stroke-width="0.8"/>
<text x="381.2" y="130.54" font-family="Liberation Sans" font-size="10" font-weight="normal" font-style="normal" text-anchor="end" fill="#222" stroke="#222" stroke-width="0.22">8</text>
<line x1="383.8" y1="227.5" x2="383.8" y2="225.5" stroke="#222" stroke-width="0.8"/>
<text x="383.8" y="238.9" font-family="Liberation Sans" font-size="10" font-weight="normal" font-style="normal" text-anchor="middle" fill="#222" stroke="#222" stroke-width="0.22">0</text>
<line x1="396.6" y1="227.5" x2="396.6" y2="226.3" stroke="#222" stroke-width="0.8"/>
<line x1="409.4" y1="227.5" x2="409.4" y2="225.5" stroke="#222" stroke-width="0.8"/>
<text x="409.4" y="238.9" font-family="Liberation Sans" font-size="10" font-weight="normal" font-style="normal" text-anchor="middle" fill="#222" stroke="#222" stroke-width="0.22">10</text>
<line x1="422.2" y1="227.5" x2="422.2" y2="226.3" stroke="#222" stroke-width="0.8"/>
<line x1="435" y1="227.5" x2="435" y2="225.5" stroke="#222" stroke-width="0.8"/>
<text x="435" y="238.9" font-family="Liberation Sans" font-size="10" font-weight="normal" font-style="normal" text-anchor="middle" fill="#222" stroke="#222" stroke-width="0.22">20</text>
<line x1="447.8" y1="227.5" x2="447.8" y2="226.3" stroke="#222" stroke-width="0.8"/>
<line x1="460.6" y1="227.5" x2="460.6" y2="225.5" stroke="#222" stroke-width="0.8"/>
<text x="460.6" y="238.9" font-family="Liberation Sans" font-size="10" font-weight="normal" font-style="normal" text-anchor="middle" fill="#222" stroke="#222" stroke-width="0.22">30</text>
<line x1="473.4" y1="227.5" x2="473.4" y2="226.3" stroke="#222" stroke-width="0.8"/>
<line x1="486.2" y1="227.5" x2="486.2" y2="225.5" stroke="#222" stroke-width="0.8"/>
<text x="486.2" y="238.9" font-family="Liberation Sans" font-size="10" font-weight="normal" font-style="normal" text-anchor="middle" fill="#222" stroke="#222" stroke-width="0.22">40</text>
<line x1="499" y1="227.5" x2="499" y2="226.3" stroke="#222" stroke-width="0.8"/>
<line x1="511.8" y1="227.5" x2="511.8" y2="225.5" stroke="#222" stroke-width="0.8"/>
<text x="511.8" y="238.9" font-family="Liberation Sans" font-size="10" font-weight="normal" font-style="normal" text-anchor="middle" fill="#222" stroke="#222" stroke-width="0.22">50</text>
<text x="449.2" y="253.4" font-family="Liberation Sans" font-size="10.2" font-weight="normal" font-style="normal" text-anchor="middle" fill="#222" textLength="70.3" lengthAdjust="spacingAndGlyphs" stroke="#222" stroke-width="0.22">Frequency (Hz)</text>
<text x="368.3" y="176.4" font-family="Liberation Sans" font-size="11" font-style="italic" text-anchor="middle" fill="#222" stroke="#222" stroke-width="0.22" letter-spacing="0.35" transform="rotate(-90 368.3 176.4)">A<tspan font-size="8" dy="2.6" font-style="normal">10</tspan><tspan dy="-2.6">/A</tspan><tspan font-size="8" dy="2.6" font-style="normal">1</tspan></text>
<path d="M385.9 213.5 C387.63 211.73 392.37 206.25 396.3 202.9 C400.23 199.55 403.22 197.95 409.5 193.4 C415.78 188.85 427.75 179.42 434 175.6 C440.25 171.78 441.38 172.88 447 170.5 C452.62 168.12 457.02 165.58 467.7 161.3 C478.38 157.02 503.87 147.55 511.1 144.8" fill="none" stroke="#222" stroke-width="0.9"/>
<circle cx="385.9" cy="213.5" r="2.35" fill="#111"/>
<circle cx="396.3" cy="202.9" r="2.35" fill="#111"/>
<circle cx="409.5" cy="193.4" r="2.35" fill="#111"/>
<circle cx="434" cy="175.6" r="2.35" fill="#111"/>
<circle cx="447" cy="170.5" r="2.35" fill="#111"/>
<circle cx="467.7" cy="161.3" r="2.35" fill="#111"/>
<circle cx="511.1" cy="144.8" r="2.35" fill="#111"/></svg>
</body></html>
